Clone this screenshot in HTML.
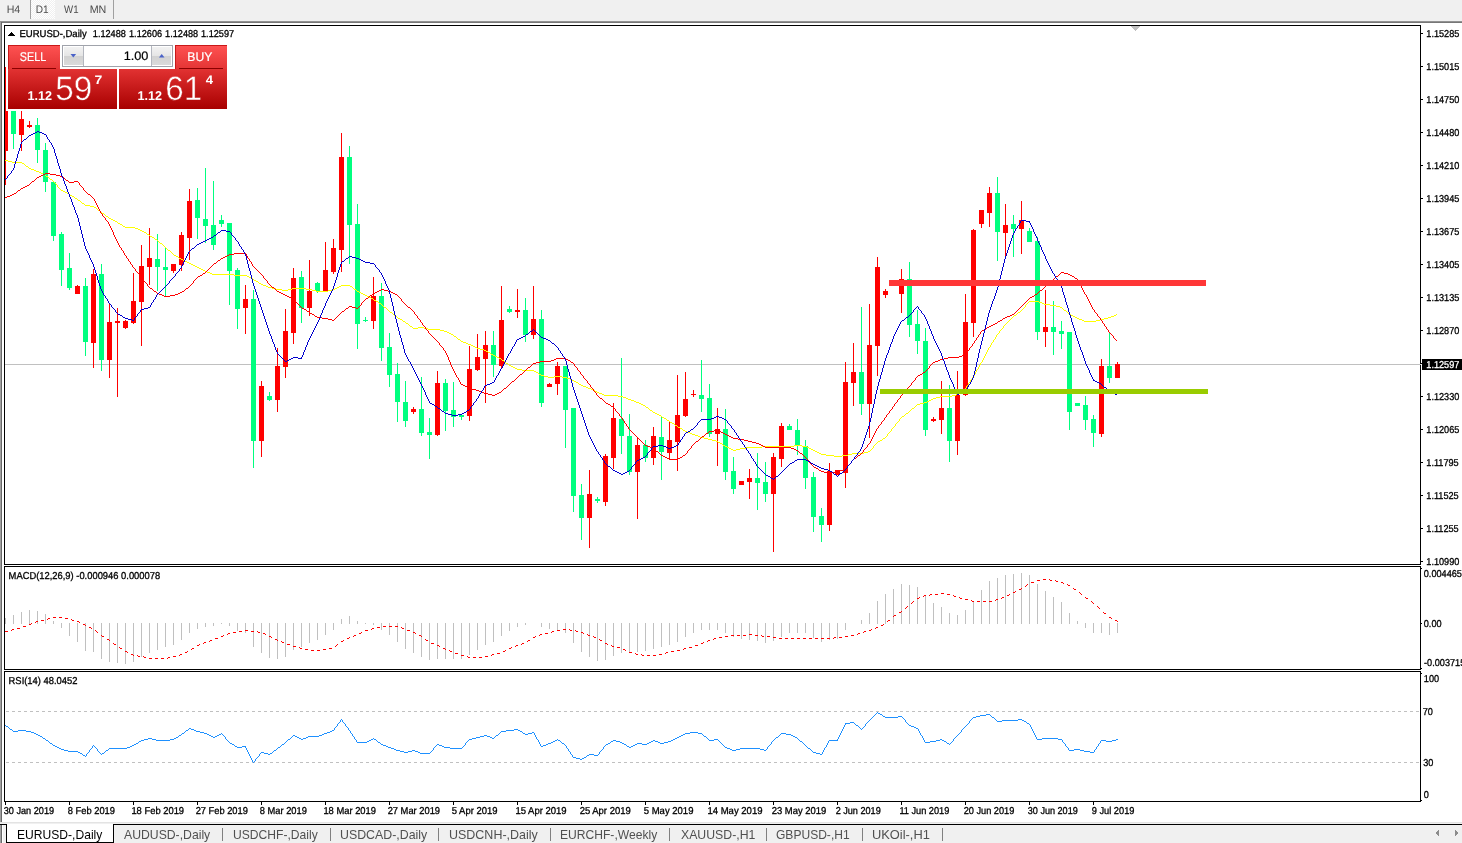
<!DOCTYPE html>
<html lang="en"><head><meta charset="utf-8"><title>EURUSD-,Daily</title>
<style>
html,body{margin:0;padding:0;background:#fff;}
body{width:1462px;height:843px;overflow:hidden;position:relative;font-family:"Liberation Sans", sans-serif;}
#chart{position:absolute;left:0;top:0;}
#toolbar{position:absolute;left:0;top:0;width:1462px;height:21px;background:#f0f0f0;}
#toolbar .sep{position:absolute;top:0;width:1px;height:19px;background:#a0a0a0;}
#toolbar .on{position:absolute;left:31px;top:0;width:24px;height:19px;background:repeating-conic-gradient(#fff 0 25%,#f0f0f0 0 50%) 0 0/2px 2px;}
#toolbar svg{position:absolute;left:0;top:0;}
#tbline{position:absolute;left:0;top:21px;width:1462px;height:2px;background:linear-gradient(#a0a0a0,#696969);}
#lstrip{position:absolute;left:0;top:22px;width:2px;height:800px;background:linear-gradient(90deg,#a0a0a0 50%,#696969 50%);}
#tabs{position:absolute;left:0;top:822px;width:1462px;height:21px;background:#f0f0f0;font-size:13px;color:#505050;}
#tabs .tab span{display:inline-block;transform-origin:0 50%;}
#tabs .line{position:absolute;left:0;top:2px;width:1462px;height:1px;background:#000;}
#tabs .hl{position:absolute;left:0;top:0;width:1462px;height:1px;background:#e3e3e3;}
#tabs .tab{position:absolute;top:3px;height:18px;line-height:19.4px;white-space:nowrap;}
#tabs .active{left:6px;top:2px;height:18px;background:#fff;border:1px solid #000;border-top:none;color:#000;width:106px;line-height:21.4px;}
#tabs .ls{position:absolute;left:0;top:3px;width:3px;height:18px;background:linear-gradient(90deg,#a0a0a0 0 1px,#696969 1px 2px,#fff 2px 3px);}
#tabs .bar{position:absolute;top:6px;width:1px;height:13px;background:#808080;}
#oct{position:absolute;left:8px;top:45px;width:219px;height:64px;}
#oct .mid{position:absolute;left:52px;top:0;width:115px;height:24px;background:#fff;}
#oct .btn{position:absolute;top:0;width:52px;height:24px;background:linear-gradient(#ff5252,#e43535);box-shadow:inset 1px 1px 0 #c81818;}
#oct .btn i{position:absolute;left:4px;right:4px;bottom:0;height:1px;background:#8b0000;}
#oct .price{position:absolute;top:24px;height:40px;width:109px;background:linear-gradient(#e23232,#a80000);}
#oct .vol{position:absolute;left:54px;top:0;width:109px;height:20px;border:1px solid #a0a3ab;background:#fff;}
#oct .vol .sb{position:absolute;top:1px;width:19px;height:18px;background:linear-gradient(#f2f2f2 0%,#e6e6e6 48%,#d2d2d2 52%,#dadada 100%);}
#oct .vol .sl{position:absolute;top:0;width:1px;height:20px;background:#b4b7bf;}
#oct svg.txt{position:absolute;left:0;top:0;}
</style></head>
<body>
<svg id="chart" width="1462" height="843" viewBox="0 0 1462 843" shape-rendering="crispEdges" font-family='"Liberation Sans", sans-serif'>
<g id="frame"><rect x="4" y="25" width="1" height="777" fill="#000"/><rect x="1420" y="25" width="1" height="777" fill="#000"/><rect x="4" y="25" width="1417" height="1" fill="#000"/><rect x="4" y="564" width="1417" height="1" fill="#000"/><rect x="4" y="565" width="1417" height="1" fill="#fff"/><rect x="4" y="566" width="1417" height="1" fill="#000"/><rect x="4" y="669" width="1417" height="1" fill="#000"/><rect x="4" y="670" width="1417" height="1" fill="#fff"/><rect x="4" y="671" width="1417" height="1" fill="#000"/><rect x="4" y="801" width="1417" height="1" fill="#000"/><rect x="1421" y="33" width="2" height="1" fill="#000"/><rect x="1421" y="66" width="2" height="1" fill="#000"/><rect x="1421" y="99" width="2" height="1" fill="#000"/><rect x="1421" y="132" width="2" height="1" fill="#000"/><rect x="1421" y="165" width="2" height="1" fill="#000"/><rect x="1421" y="198" width="2" height="1" fill="#000"/><rect x="1421" y="231" width="2" height="1" fill="#000"/><rect x="1421" y="264" width="2" height="1" fill="#000"/><rect x="1421" y="297" width="2" height="1" fill="#000"/><rect x="1421" y="330" width="2" height="1" fill="#000"/><rect x="1421" y="396" width="2" height="1" fill="#000"/><rect x="1421" y="429" width="2" height="1" fill="#000"/><rect x="1421" y="462" width="2" height="1" fill="#000"/><rect x="1421" y="495" width="2" height="1" fill="#000"/><rect x="1421" y="528" width="2" height="1" fill="#000"/><rect x="1421" y="561" width="2" height="1" fill="#000"/><rect x="1421" y="363" width="2" height="1" fill="#000"/><rect x="1422" y="359" width="40" height="11" fill="#000"/><rect x="1421" y="568" width="1" height="1" fill="#000"/><rect x="1421" y="623" width="1" height="1" fill="#000"/><rect x="1421" y="668" width="1" height="1" fill="#000"/><rect x="1421" y="673" width="1" height="1" fill="#000"/><rect x="1421" y="800" width="1" height="1" fill="#000"/><rect x="5" y="802" width="1" height="3" fill="#000"/><rect x="69" y="802" width="1" height="3" fill="#000"/><rect x="133" y="802" width="1" height="3" fill="#000"/><rect x="197" y="802" width="1" height="3" fill="#000"/><rect x="261" y="802" width="1" height="3" fill="#000"/><rect x="325" y="802" width="1" height="3" fill="#000"/><rect x="389" y="802" width="1" height="3" fill="#000"/><rect x="453" y="802" width="1" height="3" fill="#000"/><rect x="517" y="802" width="1" height="3" fill="#000"/><rect x="581" y="802" width="1" height="3" fill="#000"/><rect x="645" y="802" width="1" height="3" fill="#000"/><rect x="709" y="802" width="1" height="3" fill="#000"/><rect x="773" y="802" width="1" height="3" fill="#000"/><rect x="837" y="802" width="1" height="3" fill="#000"/><rect x="901" y="802" width="1" height="3" fill="#000"/><rect x="965" y="802" width="1" height="3" fill="#000"/><rect x="1029" y="802" width="1" height="3" fill="#000"/><rect x="1093" y="802" width="1" height="3" fill="#000"/></g>
<path d="M11 32h1v1h-1zM10 33h3v1h-3zM9 34h5v1h-5zM8 35h7v1h-7z" fill="#000"/>
<path d="M1131 26h9v1h-9zM1132 27h7v1h-7zM1133 28h5v1h-5zM1134 29h3v1h-3zM1135 30h1v1h-1z" fill="#c0c0c0"/>
<g id="plot">
<rect x="5" y="364" width="1416" height="1" fill="#c0c0c0"/>
<path d="M13 111h1v38h-1zM11 111h5v23h-5zM37 118h1v45h-1zM35 125h5v25h-5zM45 143h1v49h-1zM43 150h5v32h-5zM53 182h1v59h-1zM51 182h5v54h-5zM61 232h1v54h-1zM59 234h5v36h-5zM69 253h1v37h-1zM67 268h5v20h-5zM85 278h1v78h-1zM83 286h5v56h-5zM101 264h1v107h-1zM99 274h5v86h-5zM157 234h1v57h-1zM155 259h5v8h-5zM165 247h1v49h-1zM163 267h5v3h-5zM197 188h1v51h-1zM195 200h5v18h-5zM205 168h1v75h-1zM203 219h5v7h-5zM213 181h1v69h-1zM211 225h5v20h-5zM221 215h1v12h-1zM219 220h5v4h-5zM229 223h1v82h-1zM227 223h5v48h-5zM237 268h1v61h-1zM235 270h5v39h-5zM253 290h1v178h-1zM251 299h5v142h-5zM269 392h1v9h-1zM267 396h5v4h-5zM301 271h1v52h-1zM299 277h5v31h-5zM317 282h1v11h-1zM315 283h5v8h-5zM349 146h1v118h-1zM347 157h5v68h-5zM357 204h1v145h-1zM355 224h5v100h-5zM365 317h1v5h-1zM363 320h5v1h-5zM381 283h1v78h-1zM379 296h5v52h-5zM389 333h1v54h-1zM387 347h5v28h-5zM397 363h1v59h-1zM395 374h5v28h-5zM405 381h1v46h-1zM403 402h5v19h-5zM421 377h1v59h-1zM419 409h5v24h-5zM429 418h1v41h-1zM427 432h5v3h-5zM445 379h1v52h-1zM443 383h5v28h-5zM453 382h1v45h-1zM451 410h5v7h-5zM461 414h1v6h-1zM459 415h5v2h-5zM493 331h1v46h-1zM491 345h5v20h-5zM509 306h1v7h-1zM507 309h5v3h-5zM525 298h1v44h-1zM523 310h5v25h-5zM541 310h1v97h-1zM539 319h5v84h-5zM565 366h1v82h-1zM563 366h5v44h-5zM573 408h1v104h-1zM571 408h5v88h-5zM581 484h1v56h-1zM579 495h5v23h-5zM597 497h1v6h-1zM595 499h5v2h-5zM621 358h1v96h-1zM619 419h5v17h-5zM629 414h1v61h-1zM627 436h5v36h-5zM645 440h1v22h-1zM643 445h5v13h-5zM661 417h1v63h-1zM659 437h5v15h-5zM701 360h1v52h-1zM699 395h5v4h-5zM709 384h1v53h-1zM707 398h5v36h-5zM725 409h1v71h-1zM723 429h5v43h-5zM733 457h1v37h-1zM731 471h5v18h-5zM757 453h1v57h-1zM755 478h5v5h-5zM765 462h1v40h-1zM763 482h5v12h-5zM789 424h1v6h-1zM787 426h5v4h-5zM797 419h1v36h-1zM795 430h5v16h-5zM805 440h1v49h-1zM803 446h5v32h-5zM813 472h1v60h-1zM811 477h5v40h-5zM821 508h1v34h-1zM819 516h5v9h-5zM861 307h1v108h-1zM859 372h5v32h-5zM909 262h1v75h-1zM907 279h5v46h-5zM917 310h1v44h-1zM915 324h5v17h-5zM925 328h1v108h-1zM923 341h5v89h-5zM949 385h1v77h-1zM947 408h5v33h-5zM997 177h1v84h-1zM995 193h5v39h-5zM1013 215h1v42h-1zM1011 224h5v5h-5zM1029 228h1v14h-1zM1027 231h5v11h-5zM1037 237h1v103h-1zM1035 241h5v91h-5zM1053 301h1v54h-1zM1051 327h5v5h-5zM1061 321h1v28h-1zM1059 331h5v3h-5zM1069 332h1v98h-1zM1067 332h5v80h-5zM1077 403h1v3h-1zM1075 403h5v3h-5zM1085 396h1v34h-1zM1083 405h5v15h-5zM1093 415h1v32h-1zM1091 419h5v14h-5zM1109 333h1v50h-1zM1107 366h5v12h-5z" fill="#00ff7f"/>
<path d="M5 67h1v118h-1zM5 111h3v40h-3zM21 111h1v40h-1zM19 119h5v16h-5zM29 121h1v7h-1zM27 125h5v2h-5zM77 285h1v9h-1zM75 286h5v8h-5zM93 269h1v99h-1zM91 274h5v69h-5zM109 303h1v75h-1zM107 322h5v38h-5zM117 308h1v89h-1zM115 321h5v2h-5zM125 320h1v9h-1zM123 321h5v7h-5zM133 273h1v51h-1zM131 301h5v22h-5zM141 245h1v101h-1zM139 266h5v36h-5zM149 228h1v57h-1zM147 258h5v9h-5zM173 264h1v9h-1zM171 264h5v7h-5zM181 232h1v39h-1zM179 235h5v30h-5zM189 189h1v71h-1zM187 201h5v37h-5zM245 285h1v49h-1zM243 299h5v9h-5zM261 381h1v76h-1zM259 386h5v55h-5zM277 348h1v64h-1zM275 366h5v34h-5zM285 309h1v69h-1zM283 331h5v36h-5zM293 268h1v76h-1zM291 278h5v55h-5zM309 260h1v56h-1zM307 291h5v17h-5zM325 242h1v49h-1zM323 270h5v21h-5zM333 239h1v35h-1zM331 248h5v24h-5zM341 133h1v139h-1zM339 157h5v93h-5zM373 277h1v52h-1zM371 296h5v25h-5zM413 407h1v7h-1zM411 409h5v3h-5zM437 371h1v65h-1zM435 383h5v52h-5zM469 346h1v75h-1zM467 369h5v47h-5zM477 334h1v37h-1zM475 357h5v13h-5zM485 331h1v72h-1zM483 345h5v14h-5zM501 286h1v83h-1zM499 320h5v46h-5zM517 289h1v29h-1zM515 310h5v2h-5zM533 286h1v53h-1zM531 319h5v16h-5zM549 383h1v4h-1zM547 384h5v3h-5zM557 362h1v33h-1zM555 366h5v18h-5zM589 470h1v78h-1zM587 494h5v24h-5zM605 454h1v52h-1zM603 456h5v46h-5zM613 403h1v66h-1zM611 418h5v40h-5zM637 437h1v82h-1zM635 445h5v27h-5zM653 427h1v38h-1zM651 436h5v22h-5zM669 421h1v38h-1zM667 440h5v13h-5zM677 375h1v96h-1zM675 415h5v27h-5zM685 372h1v45h-1zM683 399h5v17h-5zM693 390h1v7h-1zM691 394h5v1h-5zM717 408h1v58h-1zM715 429h5v5h-5zM741 481h1v4h-1zM739 481h5v4h-5zM749 469h1v30h-1zM747 478h5v4h-5zM773 453h1v99h-1zM771 457h5v37h-5zM781 423h1v44h-1zM779 426h5v33h-5zM829 463h1v68h-1zM827 471h5v54h-5zM837 470h1v5h-1zM835 470h5v5h-5zM845 362h1v126h-1zM843 382h5v91h-5zM853 343h1v63h-1zM851 372h5v11h-5zM869 304h1v134h-1zM867 345h5v59h-5zM877 257h1v119h-1zM875 267h5v79h-5zM885 289h1v9h-1zM883 291h5v4h-5zM901 269h1v44h-1zM899 279h5v15h-5zM933 417h1v5h-1zM931 419h5v2h-5zM941 381h1v53h-1zM939 408h5v12h-5zM957 371h1v84h-1zM955 395h5v46h-5zM965 294h1v102h-1zM963 322h5v73h-5zM973 229h1v108h-1zM971 230h5v93h-5zM981 210h1v18h-1zM979 210h5v14h-5zM989 187h1v40h-1zM987 193h5v20h-5zM1005 204h1v53h-1zM1003 225h5v8h-5zM1021 201h1v53h-1zM1019 220h5v9h-5zM1045 290h1v57h-1zM1043 327h5v5h-5zM1101 359h1v78h-1zM1099 366h5v68h-5zM1117 362h1v16h-1zM1115 364h5v14h-5z" fill="#ff0000"/>
<path d="M5 160h3v1h-3zM8 161h4v1h-4zM12 162h10v1h-10zM22 163h2v1h-2zM26 166h2v1h-2zM29 168h2v1h-2zM31 169h3v1h-3zM34 170h2v1h-2zM36 171h3v1h-3zM39 172h2v1h-2zM41 173h2v1h-2zM43 174h2v1h-2zM46 176h2v1h-2zM50 179h2v1h-2zM61 190h2v1h-2zM63 191h2v1h-2zM65 192h2v1h-2zM67 193h2v1h-2zM70 195h2v1h-2zM72 196h2v1h-2zM75 198h2v1h-2zM78 200h2v1h-2zM82 203h2v1h-2zM85 205h5v1h-5zM90 206h4v1h-4zM94 207h2v1h-2zM98 210h2v1h-2zM102 213h2v1h-2zM106 216h2v1h-2zM109 218h2v1h-2zM111 219h2v1h-2zM113 220h2v1h-2zM115 221h2v1h-2zM118 223h2v1h-2zM120 224h2v1h-2zM123 226h2v1h-2zM125 227h10v1h-10zM135 228h3v1h-3zM138 229h2v1h-2zM140 230h2v1h-2zM142 231h2v1h-2zM144 232h2v1h-2zM147 234h2v1h-2zM150 236h2v1h-2zM152 237h2v1h-2zM155 239h2v1h-2zM160 243h2v1h-2zM168 250h2v1h-2zM174 255h2v1h-2zM176 256h2v1h-2zM179 258h2v1h-2zM181 259h2v1h-2zM183 260h2v1h-2zM185 261h2v1h-2zM187 262h2v1h-2zM189 263h2v1h-2zM191 264h2v1h-2zM193 265h2v1h-2zM195 266h2v1h-2zM197 267h2v1h-2zM199 268h2v1h-2zM201 269h2v1h-2zM203 270h2v1h-2zM205 271h2v1h-2zM207 272h3v1h-3zM210 273h2v1h-2zM212 274h22v1h-22zM234 275h13v1h-13zM247 276h2v1h-2zM249 277h2v1h-2zM251 278h2v1h-2zM254 280h2v1h-2zM256 281h2v1h-2zM259 283h2v1h-2zM261 284h2v1h-2zM263 285h3v1h-3zM266 286h2v1h-2zM268 287h4v1h-4zM272 288h4v1h-4zM276 289h6v1h-6zM282 290h6v1h-6zM288 289h4v1h-4zM292 288h14v1h-14zM306 289h6v1h-6zM312 290h4v1h-4zM316 291h12v1h-12zM328 290h4v1h-4zM332 289h3v1h-3zM335 288h2v1h-2zM337 287h2v1h-2zM339 286h2v1h-2zM341 285h9v1h-9zM350 286h2v1h-2zM354 289h2v1h-2zM357 291h2v1h-2zM359 292h2v1h-2zM361 293h2v1h-2zM363 294h2v1h-2zM365 295h2v1h-2zM367 296h2v1h-2zM369 297h2v1h-2zM371 298h2v1h-2zM374 300h2v1h-2zM376 301h2v1h-2zM379 303h2v1h-2zM384 307h2v1h-2zM390 312h2v1h-2zM394 315h2v1h-2zM398 318h2v1h-2zM400 319h2v1h-2zM403 321h2v1h-2zM406 323h2v1h-2zM410 326h2v1h-2zM413 328h5v1h-5zM418 327h6v1h-6zM424 328h4v1h-4zM428 329h12v1h-12zM440 330h4v1h-4zM444 331h3v1h-3zM447 332h2v1h-2zM449 333h2v1h-2zM451 334h2v1h-2zM454 336h2v1h-2zM458 339h2v1h-2zM461 341h2v1h-2zM463 342h3v1h-3zM466 343h2v1h-2zM468 344h3v1h-3zM471 345h2v1h-2zM473 346h2v1h-2zM475 347h2v1h-2zM477 348h3v1h-3zM480 349h4v1h-4zM484 350h2v1h-2zM486 351h2v1h-2zM488 352h2v1h-2zM491 354h2v1h-2zM493 355h2v1h-2zM495 356h2v1h-2zM497 357h2v1h-2zM499 358h2v1h-2zM502 360h2v1h-2zM506 363h2v1h-2zM509 365h2v1h-2zM511 366h2v1h-2zM513 367h2v1h-2zM515 368h2v1h-2zM517 369h5v1h-5zM522 370h12v1h-12zM534 371h2v1h-2zM536 372h2v1h-2zM539 374h2v1h-2zM541 375h3v1h-3zM544 376h4v1h-4zM548 377h6v1h-6zM554 376h8v1h-8zM562 377h5v1h-5zM567 378h3v1h-3zM570 379h2v1h-2zM572 380h2v1h-2zM574 381h2v1h-2zM576 382h2v1h-2zM579 384h2v1h-2zM581 385h2v1h-2zM583 386h3v1h-3zM586 387h2v1h-2zM588 388h3v1h-3zM591 389h2v1h-2zM593 390h2v1h-2zM595 391h2v1h-2zM597 392h2v1h-2zM599 393h3v1h-3zM602 394h2v1h-2zM604 395h14v1h-14zM618 396h5v1h-5zM623 397h3v1h-3zM626 398h2v1h-2zM628 399h3v1h-3zM631 400h3v1h-3zM634 401h2v1h-2zM636 402h3v1h-3zM639 403h2v1h-2zM641 404h2v1h-2zM643 405h2v1h-2zM646 407h2v1h-2zM650 410h2v1h-2zM653 412h2v1h-2zM655 413h2v1h-2zM657 414h2v1h-2zM659 415h2v1h-2zM662 417h2v1h-2zM664 418h2v1h-2zM667 420h2v1h-2zM670 422h2v1h-2zM672 423h2v1h-2zM675 425h2v1h-2zM678 427h2v1h-2zM680 428h2v1h-2zM683 430h2v1h-2zM685 431h2v1h-2zM687 432h3v1h-3zM690 433h2v1h-2zM692 434h3v1h-3zM695 435h3v1h-3zM698 436h2v1h-2zM700 437h4v1h-4zM704 438h4v1h-4zM708 439h4v1h-4zM712 440h4v1h-4zM716 441h2v1h-2zM718 442h2v1h-2zM720 443h2v1h-2zM723 445h2v1h-2zM725 446h2v1h-2zM727 447h2v1h-2zM729 448h2v1h-2zM731 449h2v1h-2zM733 450h3v1h-3zM736 449h4v1h-4zM740 448h6v1h-6zM746 447h16v1h-16zM762 446h32v1h-32zM794 445h8v1h-8zM802 446h5v1h-5zM807 447h2v1h-2zM809 448h2v1h-2zM811 449h2v1h-2zM813 450h2v1h-2zM815 451h2v1h-2zM817 452h2v1h-2zM819 453h2v1h-2zM821 454h5v1h-5zM826 455h8v1h-8zM834 456h8v1h-8zM842 455h6v1h-6zM848 454h4v1h-4zM852 453h12v1h-12zM864 452h4v1h-4zM868 451h2v1h-2zM878 441h2v1h-2zM880 440h2v1h-2zM883 438h2v1h-2zM902 416h2v1h-2zM906 413h2v1h-2zM912 408h2v1h-2zM917 404h3v1h-3zM920 403h4v1h-4zM924 402h3v1h-3zM927 401h2v1h-2zM929 400h2v1h-2zM931 399h2v1h-2zM933 398h3v1h-3zM936 397h4v1h-4zM940 396h12v1h-12zM952 395h4v1h-4zM956 394h2v1h-2zM958 393h2v1h-2zM962 390h2v1h-2zM1014 315h2v1h-2zM1018 312h2v1h-2zM1029 301h10v1h-10zM1039 302h3v1h-3zM1042 303h2v1h-2zM1044 304h6v1h-6zM1050 305h6v1h-6zM1056 306h4v1h-4zM1060 307h2v1h-2zM1064 310h2v1h-2zM1069 314h2v1h-2zM1071 315h2v1h-2zM1073 316h2v1h-2zM1075 317h2v1h-2zM1077 318h2v1h-2zM1079 319h3v1h-3zM1082 320h2v1h-2zM1084 321h12v1h-12zM1096 320h4v1h-4zM1100 319h4v1h-4zM1104 318h4v1h-4zM1108 317h3v1h-3zM1111 316h3v1h-3zM1114 315h2v1h-2zM24 164h1v1h-1zM25 165h1v1h-1zM28 167h1v1h-1zM45 175h1v1h-1zM48 177h1v1h-1zM49 178h1v1h-1zM52 180h1v1h-1zM53 181h1v1h-1zM54 182h1v1h-1zM55 183h1v1h-1zM56 184h1v1h-1zM57 185h1v2h-1zM58 187h1v1h-1zM59 188h1v1h-1zM60 189h1v1h-1zM69 194h1v1h-1zM74 197h1v1h-1zM77 199h1v1h-1zM80 201h1v1h-1zM81 202h1v1h-1zM84 204h1v1h-1zM96 208h1v1h-1zM97 209h1v1h-1zM100 211h1v1h-1zM101 212h1v1h-1zM104 214h1v1h-1zM105 215h1v1h-1zM108 217h1v1h-1zM117 222h1v1h-1zM122 225h1v1h-1zM146 233h1v1h-1zM149 235h1v1h-1zM154 238h1v1h-1zM157 240h1v1h-1zM158 241h1v1h-1zM159 242h1v1h-1zM162 244h1v1h-1zM163 245h1v1h-1zM164 246h1v1h-1zM165 247h1v1h-1zM166 248h1v1h-1zM167 249h1v1h-1zM170 251h1v1h-1zM171 252h1v1h-1zM172 253h1v1h-1zM173 254h1v1h-1zM178 257h1v1h-1zM253 279h1v1h-1zM258 282h1v1h-1zM352 287h1v1h-1zM353 288h1v1h-1zM356 290h1v1h-1zM373 299h1v1h-1zM378 302h1v1h-1zM381 304h1v1h-1zM382 305h1v1h-1zM383 306h1v1h-1zM386 308h1v1h-1zM387 309h1v1h-1zM388 310h1v1h-1zM389 311h1v1h-1zM392 313h1v1h-1zM393 314h1v1h-1zM396 316h1v1h-1zM397 317h1v1h-1zM402 320h1v1h-1zM405 322h1v1h-1zM408 324h1v1h-1zM409 325h1v1h-1zM412 327h1v1h-1zM453 335h1v1h-1zM456 337h1v1h-1zM457 338h1v1h-1zM460 340h1v1h-1zM490 353h1v1h-1zM501 359h1v1h-1zM504 361h1v1h-1zM505 362h1v1h-1zM508 364h1v1h-1zM538 373h1v1h-1zM578 383h1v1h-1zM645 406h1v1h-1zM648 408h1v1h-1zM649 409h1v1h-1zM652 411h1v1h-1zM661 416h1v1h-1zM666 419h1v1h-1zM669 421h1v1h-1zM674 424h1v1h-1zM677 426h1v1h-1zM682 429h1v1h-1zM722 444h1v1h-1zM870 450h1v1h-1zM871 449h1v1h-1zM872 448h1v1h-1zM873 446h1v2h-1zM874 445h1v1h-1zM875 444h1v1h-1zM876 443h1v1h-1zM877 442h1v1h-1zM882 439h1v1h-1zM885 437h1v1h-1zM886 436h1v1h-1zM887 434h1v2h-1zM888 433h1v1h-1zM889 432h1v1h-1zM890 431h1v1h-1zM891 429h1v2h-1zM892 428h1v1h-1zM893 427h1v1h-1zM894 426h1v1h-1zM895 424h1v2h-1zM896 423h1v1h-1zM897 422h1v1h-1zM898 421h1v1h-1zM899 419h1v2h-1zM900 418h1v1h-1zM901 417h1v1h-1zM904 415h1v1h-1zM905 414h1v1h-1zM908 412h1v1h-1zM909 411h1v1h-1zM910 410h1v1h-1zM911 409h1v1h-1zM914 407h1v1h-1zM915 406h1v1h-1zM916 405h1v1h-1zM960 392h1v1h-1zM961 391h1v1h-1zM964 389h1v1h-1zM965 388h1v1h-1zM966 386h1v2h-1zM967 385h1v1h-1zM968 383h1v2h-1zM969 382h1v1h-1zM970 380h1v2h-1zM971 379h1v1h-1zM972 377h1v2h-1zM973 376h1v1h-1zM974 374h1v2h-1zM975 372h1v2h-1zM976 370h1v2h-1zM977 369h1v1h-1zM978 367h1v2h-1zM979 365h1v2h-1zM980 363h1v2h-1zM981 362h1v1h-1zM982 360h1v2h-1zM983 358h1v2h-1zM984 356h1v2h-1zM985 354h1v2h-1zM986 352h1v2h-1zM987 350h1v2h-1zM988 348h1v2h-1zM989 347h1v1h-1zM990 345h1v2h-1zM991 343h1v2h-1zM992 342h1v1h-1zM993 340h1v2h-1zM994 339h1v1h-1zM995 337h1v2h-1zM996 335h1v2h-1zM997 334h1v1h-1zM998 333h1v1h-1zM999 331h1v2h-1zM1000 330h1v1h-1zM1001 329h1v1h-1zM1002 328h1v1h-1zM1003 326h1v2h-1zM1004 325h1v1h-1zM1005 324h1v1h-1zM1006 323h1v1h-1zM1007 322h1v1h-1zM1008 321h1v1h-1zM1009 320h1v1h-1zM1010 319h1v1h-1zM1011 318h1v1h-1zM1012 317h1v1h-1zM1013 316h1v1h-1zM1016 314h1v1h-1zM1017 313h1v1h-1zM1020 311h1v1h-1zM1021 310h1v1h-1zM1022 309h1v1h-1zM1023 308h1v1h-1zM1024 307h1v1h-1zM1025 305h1v2h-1zM1026 304h1v1h-1zM1027 303h1v1h-1zM1028 302h1v1h-1zM1062 308h1v1h-1zM1063 309h1v1h-1zM1066 311h1v1h-1zM1067 312h1v1h-1zM1068 313h1v1h-1zM1116 314h1v1h-1z" fill="#ffff00"/>
<path d="M5 197h2v1h-2zM7 196h3v1h-3zM10 195h2v1h-2zM12 194h2v1h-2zM14 193h2v1h-2zM18 190h2v1h-2zM21 188h2v1h-2zM23 187h2v1h-2zM25 186h2v1h-2zM27 185h2v1h-2zM32 181h2v1h-2zM37 177h2v1h-2zM39 176h2v1h-2zM41 175h2v1h-2zM43 174h2v1h-2zM45 173h5v1h-5zM50 174h6v1h-6zM56 175h4v1h-4zM60 176h2v1h-2zM62 177h2v1h-2zM66 180h2v1h-2zM69 182h5v1h-5zM74 181h4v1h-4zM88 194h2v1h-2zM150 288h2v1h-2zM154 291h2v1h-2zM157 293h2v1h-2zM159 294h3v1h-3zM162 295h2v1h-2zM164 296h6v1h-6zM170 295h5v1h-5zM175 294h3v1h-3zM178 293h2v1h-2zM180 292h2v1h-2zM182 291h2v1h-2zM186 288h2v1h-2zM198 276h2v1h-2zM200 275h2v1h-2zM203 273h2v1h-2zM214 263h2v1h-2zM218 260h2v1h-2zM221 258h2v1h-2zM223 257h2v1h-2zM225 256h2v1h-2zM227 255h2v1h-2zM229 254h5v1h-5zM234 253h12v1h-12zM272 287h2v1h-2zM277 291h2v1h-2zM279 292h2v1h-2zM281 293h2v1h-2zM283 294h2v1h-2zM285 295h2v1h-2zM287 296h2v1h-2zM289 297h2v1h-2zM291 298h2v1h-2zM302 308h2v1h-2zM304 309h2v1h-2zM307 311h2v1h-2zM310 313h2v1h-2zM312 314h2v1h-2zM315 316h2v1h-2zM317 317h5v1h-5zM322 318h6v1h-6zM328 319h4v1h-4zM332 320h2v1h-2zM342 311h2v1h-2zM346 308h2v1h-2zM349 306h3v1h-3zM352 307h4v1h-4zM356 308h2v1h-2zM366 298h2v1h-2zM370 295h2v1h-2zM373 293h2v1h-2zM375 292h2v1h-2zM377 291h2v1h-2zM379 290h2v1h-2zM381 289h3v1h-3zM384 290h4v1h-4zM388 291h3v1h-3zM391 292h2v1h-2zM393 293h2v1h-2zM395 294h2v1h-2zM408 307h2v1h-2zM461 384h2v1h-2zM463 385h2v1h-2zM465 386h2v1h-2zM467 387h2v1h-2zM469 388h3v1h-3zM472 389h4v1h-4zM476 390h3v1h-3zM479 391h3v1h-3zM482 392h2v1h-2zM484 393h4v1h-4zM488 394h4v1h-4zM492 395h3v1h-3zM495 394h2v1h-2zM497 393h2v1h-2zM499 392h2v1h-2zM504 388h2v1h-2zM512 381h2v1h-2zM520 374h2v1h-2zM528 367h2v1h-2zM533 363h3v1h-3zM536 362h4v1h-4zM540 361h11v1h-11zM551 360h3v1h-3zM554 359h2v1h-2zM556 358h10v1h-10zM566 359h2v1h-2zM568 360h2v1h-2zM571 362h2v1h-2zM600 398h2v1h-2zM606 403h2v1h-2zM608 404h2v1h-2zM611 406h2v1h-2zM645 445h2v1h-2zM647 446h3v1h-3zM650 447h2v1h-2zM652 448h2v1h-2zM656 451h2v1h-2zM661 455h2v1h-2zM663 456h2v1h-2zM665 457h2v1h-2zM667 458h2v1h-2zM669 459h9v1h-9zM678 458h2v1h-2zM680 457h2v1h-2zM683 455h2v1h-2zM696 441h2v1h-2zM702 436h2v1h-2zM706 433h2v1h-2zM709 431h5v1h-5zM714 430h5v1h-5zM719 431h2v1h-2zM721 432h2v1h-2zM723 433h2v1h-2zM725 434h2v1h-2zM727 435h2v1h-2zM729 436h2v1h-2zM731 437h2v1h-2zM733 438h5v1h-5zM738 439h6v1h-6zM744 440h4v1h-4zM748 441h4v1h-4zM752 442h4v1h-4zM756 443h3v1h-3zM759 444h2v1h-2zM761 445h2v1h-2zM763 446h2v1h-2zM765 447h26v1h-26zM791 448h3v1h-3zM794 449h2v1h-2zM796 450h2v1h-2zM800 453h2v1h-2zM814 467h2v1h-2zM816 468h2v1h-2zM819 470h2v1h-2zM821 471h3v1h-3zM824 472h4v1h-4zM828 473h4v1h-4zM832 472h4v1h-4zM836 471h4v1h-4zM840 470h4v1h-4zM844 469h2v1h-2zM854 458h2v1h-2zM858 455h2v1h-2zM918 375h2v1h-2zM920 374h2v1h-2zM923 372h2v1h-2zM933 362h2v1h-2zM935 361h3v1h-3zM938 360h2v1h-2zM940 359h4v1h-4zM944 358h4v1h-4zM948 357h11v1h-11zM959 356h3v1h-3zM962 355h2v1h-2zM964 354h2v1h-2zM982 330h2v1h-2zM984 329h2v1h-2zM987 327h2v1h-2zM989 326h2v1h-2zM991 325h2v1h-2zM993 324h2v1h-2zM995 323h2v1h-2zM998 321h2v1h-2zM1000 320h2v1h-2zM1003 318h2v1h-2zM1005 317h2v1h-2zM1007 316h3v1h-3zM1010 315h2v1h-2zM1012 314h2v1h-2zM1030 297h2v1h-2zM1032 296h2v1h-2zM1035 294h2v1h-2zM1040 290h2v1h-2zM1048 283h2v1h-2zM1056 276h2v1h-2zM1061 272h3v1h-3zM1064 273h4v1h-4zM1068 274h2v1h-2zM1070 275h2v1h-2zM1072 276h2v1h-2zM1075 278h2v1h-2zM16 192h1v1h-1zM17 191h1v1h-1zM20 189h1v1h-1zM29 184h1v1h-1zM30 183h1v1h-1zM31 182h1v1h-1zM34 180h1v1h-1zM35 179h1v1h-1zM36 178h1v1h-1zM64 178h1v1h-1zM65 179h1v1h-1zM68 181h1v1h-1zM78 182h1v1h-1zM79 183h1v2h-1zM80 185h1v1h-1zM81 186h1v1h-1zM82 187h1v1h-1zM83 188h1v2h-1zM84 190h1v1h-1zM85 191h1v1h-1zM86 192h1v1h-1zM87 193h1v1h-1zM90 195h1v1h-1zM91 196h1v1h-1zM92 197h1v1h-1zM93 198h1v1h-1zM94 199h1v2h-1zM95 201h1v2h-1zM96 203h1v2h-1zM97 205h1v2h-1zM98 207h1v2h-1zM99 209h1v2h-1zM100 211h1v2h-1zM101 213h1v1h-1zM102 214h1v2h-1zM103 216h1v1h-1zM104 217h1v1h-1zM105 218h1v2h-1zM106 220h1v1h-1zM107 221h1v1h-1zM108 222h1v2h-1zM109 224h1v2h-1zM110 226h1v2h-1zM111 228h1v2h-1zM112 230h1v2h-1zM113 232h1v3h-1zM114 235h1v2h-1zM115 237h1v2h-1zM116 239h1v2h-1zM117 241h1v2h-1zM118 243h1v2h-1zM119 245h1v2h-1zM120 247h1v1h-1zM121 248h1v2h-1zM122 250h1v1h-1zM123 251h1v2h-1zM124 253h1v2h-1zM125 255h1v1h-1zM126 256h1v2h-1zM127 258h1v1h-1zM128 259h1v2h-1zM129 261h1v1h-1zM130 262h1v2h-1zM131 264h1v1h-1zM132 265h1v2h-1zM133 267h1v1h-1zM134 268h1v1h-1zM135 269h1v2h-1zM136 271h1v1h-1zM137 272h1v1h-1zM138 273h1v1h-1zM139 274h1v2h-1zM140 276h1v1h-1zM141 277h1v1h-1zM142 278h1v1h-1zM143 279h1v2h-1zM144 281h1v1h-1zM145 282h1v1h-1zM146 283h1v1h-1zM147 284h1v2h-1zM148 286h1v1h-1zM149 287h1v1h-1zM152 289h1v1h-1zM153 290h1v1h-1zM156 292h1v1h-1zM184 290h1v1h-1zM185 289h1v1h-1zM188 287h1v1h-1zM189 286h1v1h-1zM190 285h1v1h-1zM191 284h1v1h-1zM192 283h1v1h-1zM193 281h1v2h-1zM194 280h1v1h-1zM195 279h1v1h-1zM196 278h1v1h-1zM197 277h1v1h-1zM202 274h1v1h-1zM205 272h1v1h-1zM206 271h1v1h-1zM207 270h1v1h-1zM208 269h1v1h-1zM209 268h1v1h-1zM210 267h1v1h-1zM211 266h1v1h-1zM212 265h1v1h-1zM213 264h1v1h-1zM216 262h1v1h-1zM217 261h1v1h-1zM220 259h1v1h-1zM246 254h1v2h-1zM247 256h1v2h-1zM248 258h1v1h-1zM249 259h1v2h-1zM250 261h1v1h-1zM251 262h1v2h-1zM252 264h1v2h-1zM253 266h1v1h-1zM254 267h1v1h-1zM255 268h1v1h-1zM256 269h1v1h-1zM257 270h1v1h-1zM258 271h1v1h-1zM259 272h1v1h-1zM260 273h1v1h-1zM261 274h1v1h-1zM262 275h1v1h-1zM263 276h1v2h-1zM264 278h1v1h-1zM265 279h1v1h-1zM266 280h1v1h-1zM267 281h1v2h-1zM268 283h1v1h-1zM269 284h1v1h-1zM270 285h1v1h-1zM271 286h1v1h-1zM274 288h1v1h-1zM275 289h1v1h-1zM276 290h1v1h-1zM293 299h1v1h-1zM294 300h1v1h-1zM295 301h1v1h-1zM296 302h1v1h-1zM297 303h1v1h-1zM298 304h1v1h-1zM299 305h1v1h-1zM300 306h1v1h-1zM301 307h1v1h-1zM306 310h1v1h-1zM309 312h1v1h-1zM314 315h1v1h-1zM334 319h1v1h-1zM335 318h1v1h-1zM336 317h1v1h-1zM337 316h1v1h-1zM338 315h1v1h-1zM339 314h1v1h-1zM340 313h1v1h-1zM341 312h1v1h-1zM344 310h1v1h-1zM345 309h1v1h-1zM348 307h1v1h-1zM358 307h1v1h-1zM359 306h1v1h-1zM360 305h1v1h-1zM361 303h1v2h-1zM362 302h1v1h-1zM363 301h1v1h-1zM364 300h1v1h-1zM365 299h1v1h-1zM368 297h1v1h-1zM369 296h1v1h-1zM372 294h1v1h-1zM397 295h1v1h-1zM398 296h1v1h-1zM399 297h1v1h-1zM400 298h1v1h-1zM401 299h1v2h-1zM402 301h1v1h-1zM403 302h1v1h-1zM404 303h1v1h-1zM405 304h1v1h-1zM406 305h1v1h-1zM407 306h1v1h-1zM410 308h1v1h-1zM411 309h1v1h-1zM412 310h1v1h-1zM413 311h1v1h-1zM414 312h1v2h-1zM415 314h1v1h-1zM416 315h1v1h-1zM417 316h1v2h-1zM418 318h1v1h-1zM419 319h1v1h-1zM420 320h1v2h-1zM421 322h1v1h-1zM422 323h1v2h-1zM423 325h1v1h-1zM424 326h1v1h-1zM425 327h1v2h-1zM426 329h1v1h-1zM427 330h1v1h-1zM428 331h1v2h-1zM429 333h1v1h-1zM430 334h1v1h-1zM431 335h1v1h-1zM432 336h1v1h-1zM433 337h1v1h-1zM434 338h1v1h-1zM435 339h1v1h-1zM436 340h1v1h-1zM437 341h1v1h-1zM438 342h1v1h-1zM439 343h1v2h-1zM440 345h1v1h-1zM441 346h1v1h-1zM442 347h1v1h-1zM443 348h1v2h-1zM444 350h1v1h-1zM445 351h1v2h-1zM446 353h1v2h-1zM447 355h1v2h-1zM448 357h1v3h-1zM449 360h1v2h-1zM450 362h1v3h-1zM451 365h1v2h-1zM452 367h1v2h-1zM453 369h1v2h-1zM454 371h1v2h-1zM455 373h1v2h-1zM456 375h1v2h-1zM457 377h1v1h-1zM458 378h1v2h-1zM459 380h1v2h-1zM460 382h1v2h-1zM501 391h1v1h-1zM502 390h1v1h-1zM503 389h1v1h-1zM506 387h1v1h-1zM507 386h1v1h-1zM508 385h1v1h-1zM509 384h1v1h-1zM510 383h1v1h-1zM511 382h1v1h-1zM514 380h1v1h-1zM515 379h1v1h-1zM516 378h1v1h-1zM517 377h1v1h-1zM518 376h1v1h-1zM519 375h1v1h-1zM522 373h1v1h-1zM523 372h1v1h-1zM524 371h1v1h-1zM525 370h1v1h-1zM526 369h1v1h-1zM527 368h1v1h-1zM530 366h1v1h-1zM531 365h1v1h-1zM532 364h1v1h-1zM570 361h1v1h-1zM573 363h1v1h-1zM574 364h1v2h-1zM575 366h1v1h-1zM576 367h1v1h-1zM577 368h1v2h-1zM578 370h1v1h-1zM579 371h1v1h-1zM580 372h1v2h-1zM581 374h1v1h-1zM582 375h1v1h-1zM583 376h1v2h-1zM584 378h1v1h-1zM585 379h1v1h-1zM586 380h1v1h-1zM587 381h1v2h-1zM588 383h1v1h-1zM589 384h1v1h-1zM590 385h1v2h-1zM591 387h1v1h-1zM592 388h1v1h-1zM593 389h1v2h-1zM594 391h1v1h-1zM595 392h1v1h-1zM596 393h1v2h-1zM597 395h1v1h-1zM598 396h1v1h-1zM599 397h1v1h-1zM602 399h1v1h-1zM603 400h1v1h-1zM604 401h1v1h-1zM605 402h1v1h-1zM610 405h1v1h-1zM613 407h1v1h-1zM614 408h1v1h-1zM615 409h1v2h-1zM616 411h1v1h-1zM617 412h1v1h-1zM618 413h1v1h-1zM619 414h1v2h-1zM620 416h1v1h-1zM621 417h1v1h-1zM622 418h1v2h-1zM623 420h1v1h-1zM624 421h1v2h-1zM625 423h1v1h-1zM626 424h1v2h-1zM627 426h1v1h-1zM628 427h1v2h-1zM629 429h1v1h-1zM630 430h1v1h-1zM631 431h1v1h-1zM632 432h1v1h-1zM633 433h1v1h-1zM634 434h1v1h-1zM635 435h1v1h-1zM636 436h1v1h-1zM637 437h1v1h-1zM638 438h1v1h-1zM639 439h1v1h-1zM640 440h1v1h-1zM641 441h1v1h-1zM642 442h1v1h-1zM643 443h1v1h-1zM644 444h1v1h-1zM654 449h1v1h-1zM655 450h1v1h-1zM658 452h1v1h-1zM659 453h1v1h-1zM660 454h1v1h-1zM682 456h1v1h-1zM685 454h1v1h-1zM686 453h1v1h-1zM687 451h1v2h-1zM688 450h1v1h-1zM689 449h1v1h-1zM690 448h1v1h-1zM691 446h1v2h-1zM692 445h1v1h-1zM693 444h1v1h-1zM694 443h1v1h-1zM695 442h1v1h-1zM698 440h1v1h-1zM699 439h1v1h-1zM700 438h1v1h-1zM701 437h1v1h-1zM704 435h1v1h-1zM705 434h1v1h-1zM708 432h1v1h-1zM798 451h1v1h-1zM799 452h1v1h-1zM802 454h1v1h-1zM803 455h1v1h-1zM804 456h1v1h-1zM805 457h1v1h-1zM806 458h1v1h-1zM807 459h1v1h-1zM808 460h1v1h-1zM809 461h1v2h-1zM810 463h1v1h-1zM811 464h1v1h-1zM812 465h1v1h-1zM813 466h1v1h-1zM818 469h1v1h-1zM846 468h1v1h-1zM847 466h1v2h-1zM848 465h1v1h-1zM849 464h1v1h-1zM850 463h1v1h-1zM851 461h1v2h-1zM852 460h1v1h-1zM853 459h1v1h-1zM856 457h1v1h-1zM857 456h1v1h-1zM860 454h1v1h-1zM861 453h1v1h-1zM862 452h1v1h-1zM863 450h1v2h-1zM864 449h1v1h-1zM865 448h1v1h-1zM866 447h1v1h-1zM867 445h1v2h-1zM868 444h1v1h-1zM869 443h1v1h-1zM870 441h1v2h-1zM871 439h1v2h-1zM872 437h1v2h-1zM873 435h1v2h-1zM874 433h1v2h-1zM875 431h1v2h-1zM876 429h1v2h-1zM877 428h1v1h-1zM878 426h1v2h-1zM879 425h1v1h-1zM880 424h1v1h-1zM881 422h1v2h-1zM882 421h1v1h-1zM883 420h1v1h-1zM884 418h1v2h-1zM885 417h1v1h-1zM886 415h1v2h-1zM887 414h1v1h-1zM888 413h1v1h-1zM889 411h1v2h-1zM890 410h1v1h-1zM891 409h1v1h-1zM892 407h1v2h-1zM893 406h1v1h-1zM894 404h1v2h-1zM895 403h1v1h-1zM896 402h1v1h-1zM897 400h1v2h-1zM898 399h1v1h-1zM899 398h1v1h-1zM900 396h1v2h-1zM901 395h1v1h-1zM902 394h1v1h-1zM903 393h1v1h-1zM904 392h1v1h-1zM905 390h1v2h-1zM906 389h1v1h-1zM907 388h1v1h-1zM908 387h1v1h-1zM909 386h1v1h-1zM910 385h1v1h-1zM911 383h1v2h-1zM912 382h1v1h-1zM913 381h1v1h-1zM914 380h1v1h-1zM915 378h1v2h-1zM916 377h1v1h-1zM917 376h1v1h-1zM922 373h1v1h-1zM925 371h1v1h-1zM926 370h1v1h-1zM927 369h1v1h-1zM928 368h1v1h-1zM929 366h1v2h-1zM930 365h1v1h-1zM931 364h1v1h-1zM932 363h1v1h-1zM966 352h1v2h-1zM967 351h1v1h-1zM968 350h1v1h-1zM969 348h1v2h-1zM970 347h1v1h-1zM971 346h1v1h-1zM972 344h1v2h-1zM973 343h1v1h-1zM974 341h1v2h-1zM975 340h1v1h-1zM976 338h1v2h-1zM977 337h1v1h-1zM978 335h1v2h-1zM979 334h1v1h-1zM980 332h1v2h-1zM981 331h1v1h-1zM986 328h1v1h-1zM997 322h1v1h-1zM1002 319h1v1h-1zM1014 313h1v1h-1zM1015 312h1v1h-1zM1016 311h1v1h-1zM1017 310h1v1h-1zM1018 309h1v1h-1zM1019 308h1v1h-1zM1020 307h1v1h-1zM1021 306h1v1h-1zM1022 305h1v1h-1zM1023 304h1v1h-1zM1024 303h1v1h-1zM1025 302h1v1h-1zM1026 301h1v1h-1zM1027 300h1v1h-1zM1028 299h1v1h-1zM1029 298h1v1h-1zM1034 295h1v1h-1zM1037 293h1v1h-1zM1038 292h1v1h-1zM1039 291h1v1h-1zM1042 289h1v1h-1zM1043 288h1v1h-1zM1044 287h1v1h-1zM1045 286h1v1h-1zM1046 285h1v1h-1zM1047 284h1v1h-1zM1050 282h1v1h-1zM1051 281h1v1h-1zM1052 280h1v1h-1zM1053 279h1v1h-1zM1054 278h1v1h-1zM1055 277h1v1h-1zM1058 275h1v1h-1zM1059 274h1v1h-1zM1060 273h1v1h-1zM1074 277h1v1h-1zM1077 279h1v1h-1zM1078 280h1v2h-1zM1079 282h1v2h-1zM1080 284h1v2h-1zM1081 286h1v2h-1zM1082 288h1v2h-1zM1083 290h1v2h-1zM1084 292h1v2h-1zM1085 294h1v1h-1zM1086 295h1v2h-1zM1087 297h1v2h-1zM1088 299h1v2h-1zM1089 301h1v2h-1zM1090 303h1v2h-1zM1091 305h1v2h-1zM1092 307h1v2h-1zM1093 309h1v1h-1zM1094 310h1v2h-1zM1095 312h1v1h-1zM1096 313h1v1h-1zM1097 314h1v2h-1zM1098 316h1v1h-1zM1099 317h1v1h-1zM1100 318h1v2h-1zM1101 320h1v1h-1zM1102 321h1v2h-1zM1103 323h1v1h-1zM1104 324h1v2h-1zM1105 326h1v1h-1zM1106 327h1v2h-1zM1107 329h1v1h-1zM1108 330h1v2h-1zM1109 332h1v1h-1zM1110 333h1v1h-1zM1111 334h1v1h-1zM1112 335h1v1h-1zM1113 336h1v2h-1zM1114 338h1v1h-1zM1115 339h1v1h-1zM1116 340h1v1h-1z" fill="#ff0000"/>
<path d="M24 139h2v1h-2zM29 135h2v1h-2zM31 134h2v1h-2zM33 133h2v1h-2zM35 132h2v1h-2zM37 131h2v1h-2zM39 132h3v1h-3zM42 133h2v1h-2zM44 134h2v1h-2zM118 314h2v1h-2zM120 315h2v1h-2zM123 317h2v1h-2zM125 318h3v1h-3zM128 319h4v1h-4zM132 320h2v1h-2zM141 309h3v1h-3zM144 308h4v1h-4zM148 307h2v1h-2zM192 248h2v1h-2zM197 244h2v1h-2zM199 243h2v1h-2zM201 242h2v1h-2zM203 241h2v1h-2zM205 240h2v1h-2zM207 239h2v1h-2zM209 238h2v1h-2zM211 237h2v1h-2zM214 235h2v1h-2zM218 232h2v1h-2zM221 230h5v1h-5zM226 231h4v1h-4zM285 361h2v1h-2zM287 360h2v1h-2zM289 359h2v1h-2zM291 358h2v1h-2zM293 357h5v1h-5zM298 358h4v1h-4zM342 261h2v1h-2zM346 258h2v1h-2zM349 256h3v1h-3zM352 257h4v1h-4zM356 258h3v1h-3zM359 259h2v1h-2zM361 260h2v1h-2zM363 261h2v1h-2zM365 262h5v1h-5zM370 263h4v1h-4zM430 403h2v1h-2zM432 404h2v1h-2zM435 406h2v1h-2zM438 408h2v1h-2zM442 411h2v1h-2zM445 413h3v1h-3zM448 414h4v1h-4zM452 415h6v1h-6zM458 414h4v1h-4zM462 413h2v1h-2zM464 412h2v1h-2zM467 410h2v1h-2zM485 385h2v1h-2zM487 384h3v1h-3zM490 383h2v1h-2zM492 382h2v1h-2zM517 339h2v1h-2zM519 338h2v1h-2zM521 337h2v1h-2zM523 336h2v1h-2zM526 334h2v1h-2zM530 331h2v1h-2zM541 337h2v1h-2zM543 338h3v1h-3zM546 339h2v1h-2zM548 340h2v1h-2zM552 343h2v1h-2zM608 466h2v1h-2zM613 470h2v1h-2zM615 471h2v1h-2zM617 472h2v1h-2zM619 473h2v1h-2zM621 474h2v1h-2zM623 473h2v1h-2zM625 472h2v1h-2zM627 471h2v1h-2zM637 460h2v1h-2zM639 459h2v1h-2zM641 458h2v1h-2zM643 457h2v1h-2zM653 446h5v1h-5zM658 445h5v1h-5zM663 446h3v1h-3zM666 447h2v1h-2zM668 448h3v1h-3zM671 447h3v1h-3zM674 446h2v1h-2zM676 445h2v1h-2zM686 432h2v1h-2zM688 431h2v1h-2zM691 429h2v1h-2zM701 419h10v1h-10zM711 418h3v1h-3zM714 417h2v1h-2zM716 416h3v1h-3zM719 417h3v1h-3zM722 418h2v1h-2zM724 419h2v1h-2zM766 475h2v1h-2zM768 476h2v1h-2zM771 478h2v1h-2zM776 476h2v1h-2zM790 463h2v1h-2zM792 462h2v1h-2zM795 460h2v1h-2zM797 459h9v1h-9zM806 460h2v1h-2zM808 461h2v1h-2zM811 463h2v1h-2zM813 464h2v1h-2zM815 465h2v1h-2zM817 466h2v1h-2zM819 467h2v1h-2zM821 468h3v1h-3zM824 469h4v1h-4zM828 470h2v1h-2zM830 471h2v1h-2zM834 474h2v1h-2zM840 473h2v1h-2zM902 320h2v1h-2zM906 317h2v1h-2zM957 394h2v1h-2zM959 393h3v1h-3zM962 392h2v1h-2zM964 391h2v1h-2zM1021 220h5v1h-5zM1026 221h4v1h-4zM1093 380h2v1h-2zM1095 381h2v1h-2zM1097 382h2v1h-2zM1099 383h2v1h-2zM1104 387h2v1h-2zM1109 391h2v1h-2zM1111 392h2v1h-2zM1113 393h2v1h-2zM1115 394h2v1h-2zM5 179h1v1h-1zM6 178h1v1h-1zM7 176h1v2h-1zM8 175h1v1h-1zM9 174h1v1h-1zM10 173h1v1h-1zM11 171h1v2h-1zM12 170h1v1h-1zM13 168h1v2h-1zM14 164h1v4h-1zM15 161h1v3h-1zM16 158h1v3h-1zM17 154h1v4h-1zM18 151h1v3h-1zM19 148h1v3h-1zM20 144h1v4h-1zM21 142h1v2h-1zM22 141h1v1h-1zM23 140h1v1h-1zM26 138h1v1h-1zM27 137h1v1h-1zM28 136h1v1h-1zM46 135h1v2h-1zM47 137h1v2h-1zM48 139h1v1h-1zM49 140h1v2h-1zM50 142h1v1h-1zM51 143h1v2h-1zM52 145h1v2h-1zM53 147h1v2h-1zM54 149h1v4h-1zM55 153h1v3h-1zM56 156h1v3h-1zM57 159h1v4h-1zM58 163h1v3h-1zM59 166h1v3h-1zM60 169h1v4h-1zM61 173h1v3h-1zM62 176h1v2h-1zM63 178h1v3h-1zM64 181h1v3h-1zM65 184h1v2h-1zM66 186h1v3h-1zM67 189h1v3h-1zM68 192h1v2h-1zM69 194h1v3h-1zM70 197h1v2h-1zM71 199h1v3h-1zM72 202h1v3h-1zM73 205h1v2h-1zM74 207h1v3h-1zM75 210h1v3h-1zM76 213h1v2h-1zM77 215h1v3h-1zM78 218h1v4h-1zM79 222h1v4h-1zM80 226h1v4h-1zM81 230h1v4h-1zM82 234h1v4h-1zM83 238h1v4h-1zM84 242h1v4h-1zM85 246h1v3h-1zM86 249h1v2h-1zM87 251h1v2h-1zM88 253h1v2h-1zM89 255h1v3h-1zM90 258h1v2h-1zM91 260h1v2h-1zM92 262h1v2h-1zM93 264h1v3h-1zM94 267h1v3h-1zM95 270h1v3h-1zM96 273h1v3h-1zM97 276h1v4h-1zM98 280h1v3h-1zM99 283h1v3h-1zM100 286h1v3h-1zM101 289h1v2h-1zM102 291h1v2h-1zM103 293h1v2h-1zM104 295h1v1h-1zM105 296h1v2h-1zM106 298h1v1h-1zM107 299h1v2h-1zM108 301h1v2h-1zM109 303h1v1h-1zM110 304h1v1h-1zM111 305h1v2h-1zM112 307h1v1h-1zM113 308h1v1h-1zM114 309h1v1h-1zM115 310h1v2h-1zM116 312h1v1h-1zM117 313h1v1h-1zM122 316h1v1h-1zM134 318h1v2h-1zM135 317h1v1h-1zM136 316h1v1h-1zM137 314h1v2h-1zM138 313h1v1h-1zM139 312h1v1h-1zM140 310h1v2h-1zM150 305h1v2h-1zM151 303h1v2h-1zM152 302h1v1h-1zM153 300h1v2h-1zM154 299h1v1h-1zM155 297h1v2h-1zM156 295h1v2h-1zM157 294h1v1h-1zM158 293h1v1h-1zM159 292h1v1h-1zM160 291h1v1h-1zM161 290h1v1h-1zM162 289h1v1h-1zM163 288h1v1h-1zM164 287h1v1h-1zM165 286h1v1h-1zM166 285h1v1h-1zM167 284h1v1h-1zM168 283h1v1h-1zM169 281h1v2h-1zM170 280h1v1h-1zM171 279h1v1h-1zM172 278h1v1h-1zM173 277h1v1h-1zM174 276h1v1h-1zM175 274h1v2h-1zM176 273h1v1h-1zM177 272h1v1h-1zM178 271h1v1h-1zM179 269h1v2h-1zM180 268h1v1h-1zM181 266h1v2h-1zM182 264h1v2h-1zM183 262h1v2h-1zM184 260h1v2h-1zM185 258h1v2h-1zM186 256h1v2h-1zM187 254h1v2h-1zM188 252h1v2h-1zM189 251h1v1h-1zM190 250h1v1h-1zM191 249h1v1h-1zM194 247h1v1h-1zM195 246h1v1h-1zM196 245h1v1h-1zM213 236h1v1h-1zM216 234h1v1h-1zM217 233h1v1h-1zM220 231h1v1h-1zM230 232h1v1h-1zM231 233h1v2h-1zM232 235h1v1h-1zM233 236h1v1h-1zM234 237h1v1h-1zM235 238h1v2h-1zM236 240h1v1h-1zM237 241h1v1h-1zM238 242h1v2h-1zM239 244h1v2h-1zM240 246h1v1h-1zM241 247h1v2h-1zM242 249h1v1h-1zM243 250h1v2h-1zM244 252h1v2h-1zM245 254h1v2h-1zM246 256h1v4h-1zM247 260h1v4h-1zM248 264h1v4h-1zM249 268h1v3h-1zM250 271h1v4h-1zM251 275h1v4h-1zM252 279h1v4h-1zM253 283h1v3h-1zM254 286h1v3h-1zM255 289h1v3h-1zM256 292h1v3h-1zM257 295h1v3h-1zM258 298h1v3h-1zM259 301h1v3h-1zM260 304h1v3h-1zM261 307h1v3h-1zM262 310h1v3h-1zM263 313h1v3h-1zM264 316h1v3h-1zM265 319h1v3h-1zM266 322h1v3h-1zM267 325h1v3h-1zM268 328h1v3h-1zM269 331h1v3h-1zM270 334h1v2h-1zM271 336h1v3h-1zM272 339h1v3h-1zM273 342h1v2h-1zM274 344h1v3h-1zM275 347h1v3h-1zM276 350h1v2h-1zM277 352h1v2h-1zM278 354h1v1h-1zM279 355h1v1h-1zM280 356h1v1h-1zM281 357h1v1h-1zM282 358h1v1h-1zM283 359h1v1h-1zM284 360h1v1h-1zM301 357h1v1h-1zM302 355h1v2h-1zM303 352h1v3h-1zM304 350h1v2h-1zM305 347h1v3h-1zM306 345h1v2h-1zM307 342h1v3h-1zM308 340h1v2h-1zM309 338h1v2h-1zM310 336h1v2h-1zM311 334h1v2h-1zM312 332h1v2h-1zM313 330h1v2h-1zM314 328h1v2h-1zM315 326h1v2h-1zM316 324h1v2h-1zM317 322h1v2h-1zM318 320h1v2h-1zM319 318h1v2h-1zM320 315h1v3h-1zM321 313h1v2h-1zM322 310h1v3h-1zM323 308h1v2h-1zM324 306h1v2h-1zM325 303h1v3h-1zM326 301h1v2h-1zM327 299h1v2h-1zM328 297h1v2h-1zM329 295h1v2h-1zM330 293h1v2h-1zM331 291h1v2h-1zM332 289h1v2h-1zM333 286h1v3h-1zM334 283h1v3h-1zM335 280h1v3h-1zM336 277h1v3h-1zM337 273h1v4h-1zM338 270h1v3h-1zM339 267h1v3h-1zM340 264h1v3h-1zM341 262h1v2h-1zM344 260h1v1h-1zM345 259h1v1h-1zM348 257h1v1h-1zM374 264h1v1h-1zM375 265h1v2h-1zM376 267h1v1h-1zM377 268h1v1h-1zM378 269h1v1h-1zM379 270h1v2h-1zM380 272h1v1h-1zM381 273h1v2h-1zM382 275h1v2h-1zM383 277h1v2h-1zM384 279h1v2h-1zM385 281h1v3h-1zM386 284h1v2h-1zM387 286h1v2h-1zM388 288h1v2h-1zM389 290h1v4h-1zM390 294h1v4h-1zM391 298h1v4h-1zM392 302h1v4h-1zM393 306h1v5h-1zM394 311h1v4h-1zM395 315h1v4h-1zM396 319h1v4h-1zM397 323h1v4h-1zM398 327h1v4h-1zM399 331h1v4h-1zM400 335h1v3h-1zM401 338h1v4h-1zM402 342h1v3h-1zM403 345h1v4h-1zM404 349h1v4h-1zM405 353h1v2h-1zM406 355h1v2h-1zM407 357h1v2h-1zM408 359h1v2h-1zM409 361h1v1h-1zM410 362h1v2h-1zM411 364h1v2h-1zM412 366h1v2h-1zM413 368h1v2h-1zM414 370h1v2h-1zM415 372h1v2h-1zM416 374h1v2h-1zM417 376h1v2h-1zM418 378h1v2h-1zM419 380h1v2h-1zM420 382h1v2h-1zM421 384h1v2h-1zM422 386h1v2h-1zM423 388h1v2h-1zM424 390h1v2h-1zM425 392h1v3h-1zM426 395h1v2h-1zM427 397h1v2h-1zM428 399h1v2h-1zM429 401h1v2h-1zM434 405h1v1h-1zM437 407h1v1h-1zM440 409h1v1h-1zM441 410h1v1h-1zM444 412h1v1h-1zM466 411h1v1h-1zM469 409h1v1h-1zM470 407h1v2h-1zM471 406h1v1h-1zM472 405h1v1h-1zM473 403h1v2h-1zM474 402h1v1h-1zM475 401h1v1h-1zM476 399h1v2h-1zM477 398h1v1h-1zM478 396h1v2h-1zM479 394h1v2h-1zM480 393h1v1h-1zM481 391h1v2h-1zM482 390h1v1h-1zM483 388h1v2h-1zM484 386h1v2h-1zM494 380h1v2h-1zM495 378h1v2h-1zM496 376h1v2h-1zM497 375h1v1h-1zM498 373h1v2h-1zM499 371h1v2h-1zM500 369h1v2h-1zM501 368h1v1h-1zM502 366h1v2h-1zM503 364h1v2h-1zM504 362h1v2h-1zM505 360h1v2h-1zM506 358h1v2h-1zM507 356h1v2h-1zM508 354h1v2h-1zM509 353h1v1h-1zM510 351h1v2h-1zM511 349h1v2h-1zM512 347h1v2h-1zM513 346h1v1h-1zM514 344h1v2h-1zM515 342h1v2h-1zM516 340h1v2h-1zM525 335h1v1h-1zM528 333h1v1h-1zM529 332h1v1h-1zM532 330h1v1h-1zM533 329h1v1h-1zM534 330h1v1h-1zM535 331h1v1h-1zM536 332h1v1h-1zM537 333h1v1h-1zM538 334h1v1h-1zM539 335h1v1h-1zM540 336h1v1h-1zM550 341h1v1h-1zM551 342h1v1h-1zM554 344h1v1h-1zM555 345h1v1h-1zM556 346h1v1h-1zM557 347h1v1h-1zM558 348h1v2h-1zM559 350h1v1h-1zM560 351h1v2h-1zM561 353h1v1h-1zM562 354h1v2h-1zM563 356h1v1h-1zM564 357h1v2h-1zM565 359h1v2h-1zM566 361h1v4h-1zM567 365h1v4h-1zM568 369h1v3h-1zM569 372h1v4h-1zM570 376h1v3h-1zM571 379h1v4h-1zM572 383h1v4h-1zM573 387h1v3h-1zM574 390h1v3h-1zM575 393h1v3h-1zM576 396h1v3h-1zM577 399h1v3h-1zM578 402h1v3h-1zM579 405h1v3h-1zM580 408h1v3h-1zM581 411h1v3h-1zM582 414h1v3h-1zM583 417h1v3h-1zM584 420h1v3h-1zM585 423h1v3h-1zM586 426h1v3h-1zM587 429h1v3h-1zM588 432h1v3h-1zM589 435h1v2h-1zM590 437h1v2h-1zM591 439h1v2h-1zM592 441h1v2h-1zM593 443h1v2h-1zM594 445h1v2h-1zM595 447h1v2h-1zM596 449h1v2h-1zM597 451h1v1h-1zM598 452h1v2h-1zM599 454h1v1h-1zM600 455h1v2h-1zM601 457h1v1h-1zM602 458h1v2h-1zM603 460h1v1h-1zM604 461h1v2h-1zM605 463h1v1h-1zM606 464h1v1h-1zM607 465h1v1h-1zM610 467h1v1h-1zM611 468h1v1h-1zM612 469h1v1h-1zM629 470h1v1h-1zM630 469h1v1h-1zM631 467h1v2h-1zM632 466h1v1h-1zM633 465h1v1h-1zM634 464h1v1h-1zM635 462h1v2h-1zM636 461h1v1h-1zM645 456h1v1h-1zM646 455h1v1h-1zM647 453h1v2h-1zM648 452h1v1h-1zM649 451h1v1h-1zM650 450h1v1h-1zM651 448h1v2h-1zM652 447h1v1h-1zM678 443h1v2h-1zM679 442h1v1h-1zM680 440h1v2h-1zM681 439h1v1h-1zM682 437h1v2h-1zM683 436h1v1h-1zM684 434h1v2h-1zM685 433h1v1h-1zM690 430h1v1h-1zM693 428h1v1h-1zM694 427h1v1h-1zM695 426h1v1h-1zM696 425h1v1h-1zM697 423h1v2h-1zM698 422h1v1h-1zM699 421h1v1h-1zM700 420h1v1h-1zM726 420h1v1h-1zM727 421h1v2h-1zM728 423h1v1h-1zM729 424h1v1h-1zM730 425h1v1h-1zM731 426h1v2h-1zM732 428h1v1h-1zM733 429h1v1h-1zM734 430h1v2h-1zM735 432h1v1h-1zM736 433h1v2h-1zM737 435h1v1h-1zM738 436h1v2h-1zM739 438h1v1h-1zM740 439h1v2h-1zM741 441h1v1h-1zM742 442h1v2h-1zM743 444h1v1h-1zM744 445h1v2h-1zM745 447h1v1h-1zM746 448h1v2h-1zM747 450h1v1h-1zM748 451h1v2h-1zM749 453h1v1h-1zM750 454h1v2h-1zM751 456h1v2h-1zM752 458h1v1h-1zM753 459h1v2h-1zM754 461h1v1h-1zM755 462h1v2h-1zM756 464h1v2h-1zM757 466h1v1h-1zM758 467h1v1h-1zM759 468h1v1h-1zM760 469h1v1h-1zM761 470h1v1h-1zM762 471h1v1h-1zM763 472h1v1h-1zM764 473h1v1h-1zM765 474h1v1h-1zM770 477h1v1h-1zM773 479h1v1h-1zM774 478h1v1h-1zM775 477h1v1h-1zM778 475h1v1h-1zM779 474h1v1h-1zM780 473h1v1h-1zM781 472h1v1h-1zM782 471h1v1h-1zM783 470h1v1h-1zM784 469h1v1h-1zM785 468h1v1h-1zM786 467h1v1h-1zM787 466h1v1h-1zM788 465h1v1h-1zM789 464h1v1h-1zM794 461h1v1h-1zM810 462h1v1h-1zM832 472h1v1h-1zM833 473h1v1h-1zM836 475h1v1h-1zM837 476h1v1h-1zM838 475h1v1h-1zM839 474h1v1h-1zM842 472h1v1h-1zM843 471h1v1h-1zM844 470h1v1h-1zM845 469h1v1h-1zM846 468h1v1h-1zM847 466h1v2h-1zM848 465h1v1h-1zM849 464h1v1h-1zM850 463h1v1h-1zM851 461h1v2h-1zM852 460h1v1h-1zM853 459h1v1h-1zM854 457h1v2h-1zM855 456h1v1h-1zM856 455h1v1h-1zM857 453h1v2h-1zM858 452h1v1h-1zM859 451h1v1h-1zM860 449h1v2h-1zM861 447h1v2h-1zM862 444h1v3h-1zM863 441h1v3h-1zM864 438h1v3h-1zM865 435h1v3h-1zM866 432h1v3h-1zM867 429h1v3h-1zM868 426h1v3h-1zM869 422h1v4h-1zM870 418h1v4h-1zM871 413h1v5h-1zM872 408h1v5h-1zM873 404h1v4h-1zM874 399h1v5h-1zM875 394h1v5h-1zM876 390h1v4h-1zM877 386h1v4h-1zM878 382h1v4h-1zM879 379h1v3h-1zM880 375h1v4h-1zM881 372h1v3h-1zM882 368h1v4h-1zM883 365h1v3h-1zM884 361h1v4h-1zM885 358h1v3h-1zM886 355h1v3h-1zM887 353h1v2h-1zM888 350h1v3h-1zM889 347h1v3h-1zM890 344h1v3h-1zM891 342h1v2h-1zM892 339h1v3h-1zM893 336h1v3h-1zM894 334h1v2h-1zM895 332h1v2h-1zM896 330h1v2h-1zM897 328h1v2h-1zM898 326h1v2h-1zM899 324h1v2h-1zM900 322h1v2h-1zM901 321h1v1h-1zM904 319h1v1h-1zM905 318h1v1h-1zM908 316h1v1h-1zM909 315h1v1h-1zM910 314h1v1h-1zM911 313h1v1h-1zM912 312h1v1h-1zM913 310h1v2h-1zM914 309h1v1h-1zM915 308h1v1h-1zM916 307h1v1h-1zM917 306h1v1h-1zM918 307h1v2h-1zM919 309h1v1h-1zM920 310h1v1h-1zM921 311h1v2h-1zM922 313h1v1h-1zM923 314h1v1h-1zM924 315h1v2h-1zM925 317h1v2h-1zM926 319h1v2h-1zM927 321h1v3h-1zM928 324h1v2h-1zM929 326h1v3h-1zM930 329h1v2h-1zM931 331h1v3h-1zM932 334h1v2h-1zM933 336h1v3h-1zM934 339h1v2h-1zM935 341h1v2h-1zM936 343h1v2h-1zM937 345h1v2h-1zM938 347h1v2h-1zM939 349h1v2h-1zM940 351h1v2h-1zM941 353h1v3h-1zM942 356h1v3h-1zM943 359h1v2h-1zM944 361h1v3h-1zM945 364h1v3h-1zM946 367h1v3h-1zM947 370h1v2h-1zM948 372h1v3h-1zM949 375h1v3h-1zM950 378h1v2h-1zM951 380h1v2h-1zM952 382h1v2h-1zM953 384h1v3h-1zM954 387h1v2h-1zM955 389h1v2h-1zM956 391h1v2h-1zM957 393h1v1h-1zM966 389h1v2h-1zM967 387h1v2h-1zM968 385h1v2h-1zM969 384h1v1h-1zM970 382h1v2h-1zM971 380h1v2h-1zM972 378h1v2h-1zM973 375h1v3h-1zM974 371h1v4h-1zM975 367h1v4h-1zM976 362h1v5h-1zM977 358h1v4h-1zM978 353h1v5h-1zM979 349h1v4h-1zM980 345h1v4h-1zM981 341h1v4h-1zM982 337h1v4h-1zM983 333h1v4h-1zM984 329h1v4h-1zM985 325h1v4h-1zM986 321h1v4h-1zM987 317h1v4h-1zM988 313h1v4h-1zM989 310h1v3h-1zM990 307h1v3h-1zM991 304h1v3h-1zM992 301h1v3h-1zM993 299h1v2h-1zM994 296h1v3h-1zM995 293h1v3h-1zM996 290h1v3h-1zM997 287h1v3h-1zM998 283h1v4h-1zM999 279h1v4h-1zM1000 275h1v4h-1zM1001 271h1v4h-1zM1002 267h1v4h-1zM1003 263h1v4h-1zM1004 259h1v4h-1zM1005 256h1v3h-1zM1006 253h1v3h-1zM1007 250h1v3h-1zM1008 247h1v3h-1zM1009 244h1v3h-1zM1010 241h1v3h-1zM1011 238h1v3h-1zM1012 235h1v3h-1zM1013 233h1v2h-1zM1014 231h1v2h-1zM1015 229h1v2h-1zM1016 228h1v1h-1zM1017 226h1v2h-1zM1018 225h1v1h-1zM1019 223h1v2h-1zM1020 221h1v2h-1zM1029 222h1v1h-1zM1030 223h1v2h-1zM1031 225h1v2h-1zM1032 227h1v2h-1zM1033 229h1v3h-1zM1034 232h1v2h-1zM1035 234h1v2h-1zM1036 236h1v2h-1zM1037 238h1v3h-1zM1038 241h1v2h-1zM1039 243h1v2h-1zM1040 245h1v2h-1zM1041 247h1v3h-1zM1042 250h1v2h-1zM1043 252h1v2h-1zM1044 254h1v2h-1zM1045 256h1v3h-1zM1046 259h1v2h-1zM1047 261h1v2h-1zM1048 263h1v2h-1zM1049 265h1v2h-1zM1050 267h1v2h-1zM1051 269h1v2h-1zM1052 271h1v2h-1zM1053 273h1v1h-1zM1054 274h1v2h-1zM1055 276h1v2h-1zM1056 278h1v1h-1zM1057 279h1v2h-1zM1058 281h1v1h-1zM1059 282h1v2h-1zM1060 284h1v2h-1zM1061 286h1v2h-1zM1062 288h1v4h-1zM1063 292h1v3h-1zM1064 295h1v3h-1zM1065 298h1v4h-1zM1066 302h1v3h-1zM1067 305h1v3h-1zM1068 308h1v4h-1zM1069 312h1v3h-1zM1070 315h1v3h-1zM1071 318h1v4h-1zM1072 322h1v3h-1zM1073 325h1v3h-1zM1074 328h1v3h-1zM1075 331h1v4h-1zM1076 335h1v3h-1zM1077 338h1v3h-1zM1078 341h1v3h-1zM1079 344h1v3h-1zM1080 347h1v3h-1zM1081 350h1v2h-1zM1082 352h1v3h-1zM1083 355h1v3h-1zM1084 358h1v3h-1zM1085 361h1v3h-1zM1086 364h1v2h-1zM1087 366h1v2h-1zM1088 368h1v2h-1zM1089 370h1v3h-1zM1090 373h1v2h-1zM1091 375h1v2h-1zM1092 377h1v2h-1zM1093 379h1v1h-1zM1101 384h1v1h-1zM1102 385h1v1h-1zM1103 386h1v1h-1zM1106 388h1v1h-1zM1107 389h1v1h-1zM1108 390h1v1h-1z" fill="#0000cd"/>
<rect x="889" y="280" width="317" height="6" fill="#ff3737"/>
<rect x="880" y="389" width="328" height="5" fill="#99cc00"/>
<path d="M5 618h1v6h-1zM13 615h1v9h-1zM21 612h1v12h-1zM29 610h1v14h-1zM37 611h1v13h-1zM45 614h1v10h-1zM53 621h1v3h-1zM61 623h1v5h-1zM69 623h1v13h-1zM77 623h1v19h-1zM85 623h1v28h-1zM93 623h1v29h-1zM101 623h1v36h-1zM109 623h1v39h-1zM117 623h1v40h-1zM125 623h1v41h-1zM133 623h1v39h-1zM141 623h1v34h-1zM149 623h1v30h-1zM157 623h1v27h-1zM165 623h1v24h-1zM173 623h1v22h-1zM181 623h1v17h-1zM189 623h1v10h-1zM197 623h1v6h-1zM205 623h1v4h-1zM213 623h1v3h-1zM221 623h1v1h-1zM229 623h1v3h-1zM237 623h1v8h-1zM245 623h1v10h-1zM253 623h1v24h-1zM261 623h1v30h-1zM269 623h1v35h-1zM277 623h1v36h-1zM285 623h1v34h-1zM293 623h1v27h-1zM301 623h1v24h-1zM309 623h1v20h-1zM317 623h1v17h-1zM325 623h1v12h-1zM333 623h1v7h-1zM341 619h1v5h-1zM349 616h1v8h-1zM357 621h1v3h-1zM365 623h1v1h-1zM373 623h1v2h-1zM381 623h1v7h-1zM389 623h1v12h-1zM397 623h1v19h-1zM405 623h1v26h-1zM413 623h1v30h-1zM421 623h1v34h-1zM429 623h1v37h-1zM437 623h1v36h-1zM445 623h1v36h-1zM453 623h1v36h-1zM461 623h1v36h-1zM469 623h1v32h-1zM477 623h1v27h-1zM485 623h1v22h-1zM493 623h1v19h-1zM501 623h1v13h-1zM509 623h1v8h-1zM517 623h1v4h-1zM525 623h1v2h-1zM541 623h1v4h-1zM549 623h1v6h-1zM557 623h1v7h-1zM565 623h1v10h-1zM573 623h1v20h-1zM581 623h1v29h-1zM589 623h1v34h-1zM597 623h1v38h-1zM605 623h1v37h-1zM613 623h1v33h-1zM621 623h1v30h-1zM629 623h1v30h-1zM637 623h1v29h-1zM645 623h1v28h-1zM653 623h1v26h-1zM661 623h1v24h-1zM669 623h1v22h-1zM677 623h1v19h-1zM685 623h1v14h-1zM693 623h1v10h-1zM701 623h1v7h-1zM709 623h1v7h-1zM717 623h1v7h-1zM725 623h1v10h-1zM733 623h1v14h-1zM741 623h1v16h-1zM749 623h1v17h-1zM757 623h1v18h-1zM765 623h1v20h-1zM773 623h1v18h-1zM781 623h1v14h-1zM789 623h1v10h-1zM797 623h1v10h-1zM805 623h1v10h-1zM813 623h1v15h-1zM821 623h1v19h-1zM829 623h1v17h-1zM837 623h1v16h-1zM845 623h1v7h-1zM861 620h1v4h-1zM869 613h1v11h-1zM877 601h1v23h-1zM885 594h1v30h-1zM893 589h1v35h-1zM901 584h1v40h-1zM909 585h1v39h-1zM917 587h1v37h-1zM925 596h1v28h-1zM933 603h1v21h-1zM941 607h1v17h-1zM949 613h1v11h-1zM957 615h1v9h-1zM965 610h1v14h-1zM973 601h1v23h-1zM981 590h1v34h-1zM989 581h1v43h-1zM997 578h1v46h-1zM1005 575h1v49h-1zM1013 574h1v50h-1zM1021 573h1v51h-1zM1029 575h1v49h-1zM1037 584h1v40h-1zM1045 591h1v33h-1zM1053 597h1v27h-1zM1061 602h1v22h-1zM1069 613h1v11h-1zM1077 621h1v3h-1zM1085 623h1v5h-1zM1093 623h1v10h-1zM1101 623h1v10h-1zM1109 623h1v12h-1zM1117 623h1v10h-1z" fill="#c0c0c0"/>
<path d="M5 631h3v1h-3zM12 629h2v1h-2zM17 628h3v1h-3zM23 626h3v1h-3zM29 624h2v1h-2zM36 621h2v1h-2zM41 620h3v1h-3zM48 618h2v1h-2zM53 617h3v1h-3zM59 617h3v1h-3zM65 618h3v1h-3zM72 620h2v1h-2zM77 621h2v1h-2zM83 624h2v1h-2zM89 627h2v1h-2zM102 636h2v1h-2zM107 639h2v1h-2zM114 644h2v1h-2zM120 648h2v1h-2zM125 651h2v1h-2zM131 654h2v1h-2zM138 656h2v1h-2zM144 657h2v1h-2zM149 658h3v1h-3zM155 658h3v1h-3zM161 658h3v1h-3zM168 657h2v1h-2zM173 656h3v1h-3zM180 654h2v1h-2zM185 652h2v1h-2zM192 648h2v1h-2zM197 645h2v1h-2zM204 642h2v1h-2zM210 640h2v1h-2zM215 638h3v1h-3zM221 636h2v1h-2zM228 633h2v1h-2zM233 632h3v1h-3zM239 631h3v1h-3zM245 630h3v1h-3zM251 631h3v1h-3zM258 632h2v1h-2zM263 633h2v1h-2zM269 636h2v1h-2zM275 639h2v1h-2zM282 642h2v1h-2zM287 644h3v1h-3zM293 646h3v1h-3zM300 648h2v1h-2zM305 649h3v1h-3zM311 650h3v1h-3zM317 650h3v1h-3zM323 649h3v1h-3zM329 648h3v1h-3zM341 641h2v1h-2zM347 638h2v1h-2zM354 635h2v1h-2zM359 633h2v1h-2zM365 630h3v1h-3zM372 628h2v1h-2zM377 627h3v1h-3zM383 626h3v1h-3zM389 626h3v1h-3zM395 626h3v1h-3zM402 628h2v1h-2zM407 630h3v1h-3zM413 632h2v1h-2zM419 635h2v1h-2zM426 640h2v1h-2zM431 643h3v1h-3zM437 645h2v1h-2zM443 648h2v1h-2zM450 651h2v1h-2zM455 653h3v1h-3zM461 655h3v1h-3zM468 657h2v1h-2zM473 657h3v1h-3zM479 657h3v1h-3zM485 656h3v1h-3zM492 654h2v1h-2zM497 653h3v1h-3zM503 651h2v1h-2zM509 648h2v1h-2zM516 645h2v1h-2zM522 643h2v1h-2zM528 640h2v1h-2zM533 637h2v1h-2zM540 634h2v1h-2zM545 633h3v1h-3zM552 631h2v1h-2zM557 630h3v1h-3zM563 629h3v1h-3zM570 630h2v1h-2zM576 631h2v1h-2zM581 632h2v1h-2zM588 635h2v1h-2zM594 637h2v1h-2zM600 640h2v1h-2zM605 643h2v1h-2zM612 646h2v1h-2zM617 647h3v1h-3zM623 649h2v1h-2zM629 652h3v1h-3zM636 654h2v1h-2zM642 655h2v1h-2zM647 655h3v1h-3zM653 655h3v1h-3zM659 654h3v1h-3zM666 652h2v1h-2zM671 651h3v1h-3zM677 650h3v1h-3zM684 648h2v1h-2zM689 647h3v1h-3zM695 645h3v1h-3zM701 643h2v1h-2zM708 640h2v1h-2zM714 638h2v1h-2zM719 637h3v1h-3zM725 636h3v1h-3zM731 635h3v1h-3zM737 635h3v1h-3zM743 635h3v1h-3zM749 634h3v1h-3zM755 635h3v1h-3zM762 636h2v1h-2zM767 636h3v1h-3zM773 637h3v1h-3zM779 638h3v1h-3zM785 638h3v1h-3zM791 638h3v1h-3zM797 638h3v1h-3zM803 638h3v1h-3zM809 638h3v1h-3zM815 638h3v1h-3zM821 638h3v1h-3zM827 638h3v1h-3zM834 637h2v1h-2zM839 637h3v1h-3zM845 636h3v1h-3zM851 635h3v1h-3zM858 633h2v1h-2zM864 631h2v1h-2zM869 630h2v1h-2zM876 627h2v1h-2zM881 625h2v1h-2zM888 620h2v1h-2zM894 615h2v1h-2zM899 612h2v1h-2zM917 598h2v1h-2zM924 595h2v1h-2zM930 594h2v1h-2zM935 594h3v1h-3zM941 593h3v1h-3zM947 594h3v1h-3zM954 596h2v1h-2zM960 598h2v1h-2zM965 599h3v1h-3zM972 601h2v1h-2zM977 601h3v1h-3zM983 601h3v1h-3zM989 601h3v1h-3zM996 599h2v1h-2zM1002 597h2v1h-2zM1007 595h2v1h-2zM1013 592h2v1h-2zM1019 589h2v1h-2zM1031 582h3v1h-3zM1037 580h3v1h-3zM1043 579h3v1h-3zM1050 580h2v1h-2zM1056 581h2v1h-2zM1061 582h2v1h-2zM1068 585h2v1h-2zM1074 589h2v1h-2zM1086 598h2v1h-2zM1104 613h2v1h-2zM1109 617h2v1h-2zM1115 620h2v1h-2zM11 630h1v1h-1zM31 623h1v1h-1zM35 622h1v1h-1zM47 619h1v1h-1zM71 619h1v1h-1zM79 622h1v1h-1zM85 625h1v1h-1zM91 628h1v1h-1zM95 630h1v1h-1zM96 631h1v1h-1zM97 632h1v1h-1zM101 635h1v1h-1zM109 640h1v1h-1zM113 643h1v1h-1zM119 647h1v1h-1zM127 652h1v1h-1zM133 655h1v1h-1zM137 655h1v1h-1zM143 656h1v1h-1zM167 658h1v1h-1zM179 655h1v1h-1zM187 651h1v1h-1zM191 649h1v1h-1zM199 644h1v1h-1zM203 643h1v1h-1zM209 641h1v1h-1zM223 635h1v1h-1zM227 634h1v1h-1zM257 631h1v1h-1zM265 634h1v1h-1zM271 637h1v1h-1zM277 640h1v1h-1zM281 641h1v1h-1zM299 647h1v1h-1zM335 646h1v1h-1zM336 645h1v1h-1zM337 644h1v1h-1zM343 640h1v1h-1zM349 637h1v1h-1zM353 636h1v1h-1zM361 632h1v1h-1zM371 629h1v1h-1zM401 627h1v1h-1zM415 633h1v1h-1zM421 636h1v1h-1zM425 639h1v1h-1zM439 646h1v1h-1zM445 649h1v1h-1zM449 650h1v1h-1zM467 656h1v1h-1zM491 655h1v1h-1zM505 650h1v1h-1zM511 647h1v1h-1zM515 646h1v1h-1zM521 644h1v1h-1zM527 641h1v1h-1zM535 636h1v1h-1zM539 635h1v1h-1zM551 632h1v1h-1zM569 629h1v1h-1zM575 630h1v1h-1zM583 633h1v1h-1zM587 634h1v1h-1zM593 636h1v1h-1zM599 639h1v1h-1zM607 644h1v1h-1zM611 645h1v1h-1zM625 650h1v1h-1zM635 653h1v1h-1zM641 654h1v1h-1zM665 653h1v1h-1zM683 649h1v1h-1zM703 642h1v1h-1zM707 641h1v1h-1zM713 639h1v1h-1zM761 635h1v1h-1zM833 638h1v1h-1zM857 634h1v1h-1zM863 632h1v1h-1zM871 629h1v1h-1zM875 628h1v1h-1zM883 624h1v1h-1zM887 621h1v1h-1zM893 616h1v1h-1zM901 611h1v1h-1zM905 608h1v1h-1zM906 607h1v1h-1zM907 606h1v1h-1zM911 603h1v1h-1zM912 602h1v1h-1zM913 601h1v1h-1zM919 597h1v1h-1zM923 596h1v1h-1zM929 595h1v1h-1zM953 595h1v1h-1zM959 597h1v1h-1zM971 600h1v1h-1zM995 600h1v1h-1zM1001 598h1v1h-1zM1009 594h1v1h-1zM1015 591h1v1h-1zM1021 588h1v1h-1zM1025 586h1v1h-1zM1026 585h1v1h-1zM1027 584h1v1h-1zM1049 579h1v1h-1zM1055 580h1v1h-1zM1063 583h1v1h-1zM1067 584h1v1h-1zM1073 588h1v1h-1zM1079 592h1v1h-1zM1080 593h1v1h-1zM1081 594h1v1h-1zM1085 597h1v1h-1zM1091 601h1v1h-1zM1092 602h1v1h-1zM1093 603h1v1h-1zM1097 606h1v1h-1zM1098 607h1v1h-1zM1099 608h1v1h-1zM1103 612h1v1h-1zM1111 618h1v1h-1zM1117 621h1v1h-1z" fill="#ff0000"/>
<path d="M6 711.5H1420M6 762.5H1420" stroke="#c0c0c0" stroke-width="1" stroke-dasharray="3 3" fill="none"/>
<path d="M6 726h2v1h-2zM10 729h2v1h-2zM13 731h5v1h-5zM18 730h8v1h-8zM26 731h5v1h-5zM31 732h3v1h-3zM34 733h2v1h-2zM36 734h2v1h-2zM38 735h2v1h-2zM40 736h2v1h-2zM43 738h2v1h-2zM46 740h2v1h-2zM50 743h2v1h-2zM53 745h2v1h-2zM55 746h2v1h-2zM57 747h2v1h-2zM59 748h2v1h-2zM61 749h3v1h-3zM64 750h4v1h-4zM68 751h10v1h-10zM78 752h2v1h-2zM80 753h2v1h-2zM83 755h2v1h-2zM102 753h2v1h-2zM106 750h2v1h-2zM109 748h18v1h-18zM127 747h3v1h-3zM130 746h2v1h-2zM132 745h2v1h-2zM134 744h2v1h-2zM136 743h2v1h-2zM139 741h2v1h-2zM141 740h3v1h-3zM144 739h4v1h-4zM148 738h4v1h-4zM152 739h4v1h-4zM156 740h14v1h-14zM170 739h4v1h-4zM174 738h2v1h-2zM176 737h2v1h-2zM179 735h2v1h-2zM182 733h2v1h-2zM186 730h2v1h-2zM189 728h2v1h-2zM191 729h3v1h-3zM194 730h2v1h-2zM196 731h4v1h-4zM200 732h4v1h-4zM204 733h3v1h-3zM207 734h2v1h-2zM209 735h2v1h-2zM211 736h2v1h-2zM213 737h2v1h-2zM215 736h2v1h-2zM217 735h2v1h-2zM219 734h2v1h-2zM230 743h2v1h-2zM232 744h2v1h-2zM235 746h2v1h-2zM237 747h5v1h-5zM242 746h4v1h-4zM261 752h3v1h-3zM264 753h4v1h-4zM268 754h2v1h-2zM270 753h2v1h-2zM274 750h2v1h-2zM278 747h2v1h-2zM282 744h2v1h-2zM288 739h2v1h-2zM293 735h2v1h-2zM295 736h2v1h-2zM297 737h2v1h-2zM299 738h2v1h-2zM301 739h2v1h-2zM303 738h3v1h-3zM306 737h2v1h-2zM308 736h11v1h-11zM319 735h3v1h-3zM322 734h2v1h-2zM324 733h3v1h-3zM327 732h3v1h-3zM330 731h2v1h-2zM332 730h2v1h-2zM357 742h10v1h-10zM367 741h2v1h-2zM369 740h2v1h-2zM371 739h2v1h-2zM374 739h2v1h-2zM378 742h2v1h-2zM381 744h2v1h-2zM383 745h3v1h-3zM386 746h2v1h-2zM388 747h3v1h-3zM391 748h3v1h-3zM394 749h2v1h-2zM396 750h4v1h-4zM400 751h4v1h-4zM404 752h4v1h-4zM408 751h4v1h-4zM412 750h3v1h-3zM415 751h3v1h-3zM418 752h2v1h-2zM420 753h10v1h-10zM437 744h2v1h-2zM439 745h3v1h-3zM442 746h2v1h-2zM444 747h6v1h-6zM450 748h12v1h-12zM469 739h3v1h-3zM472 738h4v1h-4zM476 737h4v1h-4zM480 736h4v1h-4zM484 735h3v1h-3zM487 736h3v1h-3zM490 737h2v1h-2zM492 738h2v1h-2zM496 735h2v1h-2zM501 731h5v1h-5zM506 730h8v1h-8zM514 729h4v1h-4zM518 730h2v1h-2zM520 731h2v1h-2zM523 733h2v1h-2zM525 734h3v1h-3zM528 733h4v1h-4zM532 732h2v1h-2zM541 746h2v1h-2zM543 745h3v1h-3zM546 744h2v1h-2zM548 743h3v1h-3zM551 742h2v1h-2zM553 741h2v1h-2zM555 740h2v1h-2zM558 740h2v1h-2zM562 743h2v1h-2zM573 757h3v1h-3zM576 758h4v1h-4zM580 759h2v1h-2zM582 758h2v1h-2zM584 757h2v1h-2zM587 755h2v1h-2zM589 754h5v1h-5zM594 755h4v1h-4zM606 744h2v1h-2zM608 743h2v1h-2zM611 741h2v1h-2zM613 740h3v1h-3zM616 741h4v1h-4zM620 742h2v1h-2zM622 743h2v1h-2zM624 744h2v1h-2zM627 746h2v1h-2zM629 747h2v1h-2zM631 746h2v1h-2zM633 745h2v1h-2zM635 744h2v1h-2zM637 743h5v1h-5zM642 744h5v1h-5zM647 743h2v1h-2zM649 742h2v1h-2zM651 741h2v1h-2zM653 740h2v1h-2zM655 741h3v1h-3zM658 742h2v1h-2zM660 743h4v1h-4zM664 742h4v1h-4zM668 741h3v1h-3zM671 740h2v1h-2zM673 739h2v1h-2zM675 738h2v1h-2zM677 737h2v1h-2zM679 736h2v1h-2zM681 735h2v1h-2zM683 734h2v1h-2zM685 733h5v1h-5zM690 732h8v1h-8zM698 733h4v1h-4zM704 736h2v1h-2zM709 740h5v1h-5zM714 739h4v1h-4zM725 747h2v1h-2zM727 748h3v1h-3zM730 749h2v1h-2zM732 750h4v1h-4zM736 749h4v1h-4zM740 748h20v1h-20zM760 749h4v1h-4zM764 750h2v1h-2zM776 737h2v1h-2zM781 733h5v1h-5zM786 734h5v1h-5zM791 735h2v1h-2zM793 736h2v1h-2zM795 737h2v1h-2zM800 741h2v1h-2zM808 748h2v1h-2zM813 752h3v1h-3zM816 753h4v1h-4zM820 754h2v1h-2zM829 740h9v1h-9zM845 723h5v1h-5zM850 722h4v1h-4zM856 725h2v1h-2zM878 713h2v1h-2zM880 714h2v1h-2zM883 716h2v1h-2zM885 717h13v1h-13zM898 716h4v1h-4zM909 725h2v1h-2zM911 726h3v1h-3zM914 727h2v1h-2zM916 728h2v1h-2zM925 742h5v1h-5zM930 741h6v1h-6zM936 740h4v1h-4zM940 739h2v1h-2zM942 740h2v1h-2zM944 741h2v1h-2zM947 743h2v1h-2zM973 717h3v1h-3zM976 716h4v1h-4zM980 715h6v1h-6zM986 714h4v1h-4zM992 717h2v1h-2zM997 721h5v1h-5zM1002 720h16v1h-16zM1018 719h4v1h-4zM1022 720h2v1h-2zM1024 721h2v1h-2zM1027 723h2v1h-2zM1037 739h5v1h-5zM1042 738h16v1h-16zM1058 739h4v1h-4zM1069 750h5v1h-5zM1074 749h6v1h-6zM1080 750h4v1h-4zM1084 751h6v1h-6zM1090 752h4v1h-4zM1101 740h5v1h-5zM1106 741h6v1h-6zM1112 740h4v1h-4zM1116 739h2v1h-2zM5 725h1v1h-1zM8 727h1v1h-1zM9 728h1v1h-1zM12 730h1v1h-1zM42 737h1v1h-1zM45 739h1v1h-1zM48 741h1v1h-1zM49 742h1v1h-1zM52 744h1v1h-1zM82 754h1v1h-1zM85 756h1v1h-1zM86 754h1v2h-1zM87 753h1v1h-1zM88 752h1v1h-1zM89 750h1v2h-1zM90 749h1v1h-1zM91 748h1v1h-1zM92 746h1v2h-1zM93 745h1v1h-1zM94 746h1v1h-1zM95 747h1v1h-1zM96 748h1v1h-1zM97 749h1v2h-1zM98 751h1v1h-1zM99 752h1v1h-1zM100 753h1v1h-1zM101 754h1v1h-1zM104 752h1v1h-1zM105 751h1v1h-1zM108 749h1v1h-1zM138 742h1v1h-1zM178 736h1v1h-1zM181 734h1v1h-1zM184 732h1v1h-1zM185 731h1v1h-1zM188 729h1v1h-1zM221 733h1v1h-1zM222 734h1v1h-1zM223 735h1v1h-1zM224 736h1v1h-1zM225 737h1v2h-1zM226 739h1v1h-1zM227 740h1v1h-1zM228 741h1v1h-1zM229 742h1v1h-1zM234 745h1v1h-1zM245 747h1v1h-1zM246 748h1v2h-1zM247 750h1v2h-1zM248 752h1v2h-1zM249 754h1v2h-1zM250 756h1v2h-1zM251 758h1v2h-1zM252 760h1v2h-1zM253 762h1v1h-1zM254 761h1v1h-1zM255 759h1v2h-1zM256 758h1v1h-1zM257 757h1v1h-1zM258 756h1v1h-1zM259 754h1v2h-1zM260 753h1v1h-1zM272 752h1v1h-1zM273 751h1v1h-1zM276 749h1v1h-1zM277 748h1v1h-1zM280 746h1v1h-1zM281 745h1v1h-1zM284 743h1v1h-1zM285 742h1v1h-1zM286 741h1v1h-1zM287 740h1v1h-1zM290 738h1v1h-1zM291 737h1v1h-1zM292 736h1v1h-1zM334 728h1v2h-1zM335 727h1v1h-1zM336 726h1v1h-1zM337 724h1v2h-1zM338 723h1v1h-1zM339 722h1v1h-1zM340 720h1v2h-1zM341 719h1v1h-1zM342 720h1v2h-1zM343 722h1v1h-1zM344 723h1v1h-1zM345 724h1v2h-1zM346 726h1v1h-1zM347 727h1v1h-1zM348 728h1v2h-1zM349 730h1v1h-1zM350 731h1v2h-1zM351 733h1v1h-1zM352 734h1v2h-1zM353 736h1v1h-1zM354 737h1v2h-1zM355 739h1v1h-1zM356 740h1v2h-1zM373 738h1v1h-1zM376 740h1v1h-1zM377 741h1v1h-1zM380 743h1v1h-1zM430 752h1v1h-1zM431 751h1v1h-1zM432 750h1v1h-1zM433 748h1v2h-1zM434 747h1v1h-1zM435 746h1v1h-1zM436 745h1v1h-1zM462 747h1v1h-1zM463 746h1v1h-1zM464 745h1v1h-1zM465 743h1v2h-1zM466 742h1v1h-1zM467 741h1v1h-1zM468 740h1v1h-1zM494 737h1v1h-1zM495 736h1v1h-1zM498 734h1v1h-1zM499 733h1v1h-1zM500 732h1v1h-1zM522 732h1v1h-1zM534 733h1v2h-1zM535 735h1v2h-1zM536 737h1v2h-1zM537 739h1v1h-1zM538 740h1v2h-1zM539 742h1v2h-1zM540 744h1v2h-1zM557 739h1v1h-1zM560 741h1v1h-1zM561 742h1v1h-1zM564 744h1v1h-1zM565 745h1v1h-1zM566 746h1v2h-1zM567 748h1v1h-1zM568 749h1v2h-1zM569 751h1v1h-1zM570 752h1v2h-1zM571 754h1v1h-1zM572 755h1v2h-1zM586 756h1v1h-1zM598 754h1v1h-1zM599 752h1v2h-1zM600 751h1v1h-1zM601 750h1v1h-1zM602 749h1v1h-1zM603 747h1v2h-1zM604 746h1v1h-1zM605 745h1v1h-1zM610 742h1v1h-1zM626 745h1v1h-1zM702 734h1v1h-1zM703 735h1v1h-1zM706 737h1v1h-1zM707 738h1v1h-1zM708 739h1v1h-1zM718 740h1v1h-1zM719 741h1v1h-1zM720 742h1v1h-1zM721 743h1v1h-1zM722 744h1v1h-1zM723 745h1v1h-1zM724 746h1v1h-1zM766 749h1v1h-1zM767 747h1v2h-1zM768 746h1v1h-1zM769 745h1v1h-1zM770 744h1v1h-1zM771 742h1v2h-1zM772 741h1v1h-1zM773 740h1v1h-1zM774 739h1v1h-1zM775 738h1v1h-1zM778 736h1v1h-1zM779 735h1v1h-1zM780 734h1v1h-1zM797 738h1v1h-1zM798 739h1v1h-1zM799 740h1v1h-1zM802 742h1v1h-1zM803 743h1v1h-1zM804 744h1v1h-1zM805 745h1v1h-1zM806 746h1v1h-1zM807 747h1v1h-1zM810 749h1v1h-1zM811 750h1v1h-1zM812 751h1v1h-1zM822 752h1v2h-1zM823 750h1v2h-1zM824 748h1v2h-1zM825 747h1v1h-1zM826 745h1v2h-1zM827 743h1v2h-1zM828 741h1v2h-1zM837 739h1v1h-1zM838 737h1v2h-1zM839 735h1v2h-1zM840 733h1v2h-1zM841 731h1v2h-1zM842 729h1v2h-1zM843 727h1v2h-1zM844 725h1v2h-1zM845 724h1v1h-1zM854 723h1v1h-1zM855 724h1v1h-1zM858 726h1v1h-1zM859 727h1v1h-1zM860 728h1v1h-1zM861 729h1v1h-1zM862 728h1v1h-1zM863 727h1v1h-1zM864 726h1v1h-1zM865 724h1v2h-1zM866 723h1v1h-1zM867 722h1v1h-1zM868 721h1v1h-1zM869 720h1v1h-1zM870 719h1v1h-1zM871 718h1v1h-1zM872 717h1v1h-1zM873 716h1v1h-1zM874 715h1v1h-1zM875 714h1v1h-1zM876 713h1v1h-1zM877 712h1v1h-1zM882 715h1v1h-1zM902 717h1v1h-1zM903 718h1v1h-1zM904 719h1v1h-1zM905 720h1v2h-1zM906 722h1v1h-1zM907 723h1v1h-1zM908 724h1v1h-1zM918 729h1v2h-1zM919 731h1v2h-1zM920 733h1v2h-1zM921 735h1v1h-1zM922 736h1v2h-1zM923 738h1v2h-1zM924 740h1v2h-1zM946 742h1v1h-1zM949 744h1v1h-1zM950 743h1v1h-1zM951 742h1v1h-1zM952 741h1v1h-1zM953 739h1v2h-1zM954 738h1v1h-1zM955 737h1v1h-1zM956 736h1v1h-1zM957 735h1v1h-1zM958 734h1v1h-1zM959 733h1v1h-1zM960 732h1v1h-1zM961 730h1v2h-1zM962 729h1v1h-1zM963 728h1v1h-1zM964 727h1v1h-1zM965 726h1v1h-1zM966 725h1v1h-1zM967 724h1v1h-1zM968 723h1v1h-1zM969 721h1v2h-1zM970 720h1v1h-1zM971 719h1v1h-1zM972 718h1v1h-1zM990 715h1v1h-1zM991 716h1v1h-1zM994 718h1v1h-1zM995 719h1v1h-1zM996 720h1v1h-1zM1026 722h1v1h-1zM1029 724h1v1h-1zM1030 725h1v2h-1zM1031 727h1v2h-1zM1032 729h1v2h-1zM1033 731h1v2h-1zM1034 733h1v2h-1zM1035 735h1v2h-1zM1036 737h1v2h-1zM1062 740h1v2h-1zM1063 742h1v1h-1zM1064 743h1v1h-1zM1065 744h1v2h-1zM1066 746h1v1h-1zM1067 747h1v1h-1zM1068 748h1v2h-1zM1094 750h1v2h-1zM1095 749h1v1h-1zM1096 747h1v2h-1zM1097 746h1v1h-1zM1098 744h1v2h-1zM1099 743h1v1h-1zM1100 741h1v2h-1z" fill="#1e90ff"/>
</g>
<g id="labels" text-rendering="geometricPrecision">
<text x="1426.31" y="37" font-size="10" fill="#000" stroke="#000" stroke-width="0.3" textLength="33.06" lengthAdjust="spacingAndGlyphs">1.15285</text>
<text x="1426.31" y="70" font-size="10" fill="#000" stroke="#000" stroke-width="0.3" textLength="33.06" lengthAdjust="spacingAndGlyphs">1.15015</text>
<text x="1426.31" y="103" font-size="10" fill="#000" stroke="#000" stroke-width="0.3" textLength="33.06" lengthAdjust="spacingAndGlyphs">1.14750</text>
<text x="1426.31" y="136" font-size="10" fill="#000" stroke="#000" stroke-width="0.3" textLength="33.06" lengthAdjust="spacingAndGlyphs">1.14480</text>
<text x="1426.31" y="169" font-size="10" fill="#000" stroke="#000" stroke-width="0.3" textLength="33.06" lengthAdjust="spacingAndGlyphs">1.14210</text>
<text x="1426.31" y="202" font-size="10" fill="#000" stroke="#000" stroke-width="0.3" textLength="33.06" lengthAdjust="spacingAndGlyphs">1.13945</text>
<text x="1426.31" y="235" font-size="10" fill="#000" stroke="#000" stroke-width="0.3" textLength="33.06" lengthAdjust="spacingAndGlyphs">1.13675</text>
<text x="1426.31" y="268" font-size="10" fill="#000" stroke="#000" stroke-width="0.3" textLength="33.06" lengthAdjust="spacingAndGlyphs">1.13405</text>
<text x="1426.31" y="301" font-size="10" fill="#000" stroke="#000" stroke-width="0.3" textLength="33.06" lengthAdjust="spacingAndGlyphs">1.13135</text>
<text x="1426.31" y="334" font-size="10" fill="#000" stroke="#000" stroke-width="0.3" textLength="33.06" lengthAdjust="spacingAndGlyphs">1.12870</text>
<text x="1426.31" y="400" font-size="10" fill="#000" stroke="#000" stroke-width="0.3" textLength="33.06" lengthAdjust="spacingAndGlyphs">1.12330</text>
<text x="1426.31" y="433" font-size="10" fill="#000" stroke="#000" stroke-width="0.3" textLength="33.06" lengthAdjust="spacingAndGlyphs">1.12065</text>
<text x="1426.31" y="466" font-size="10" fill="#000" stroke="#000" stroke-width="0.3" textLength="32.37" lengthAdjust="spacingAndGlyphs">1.11795</text>
<text x="1426.31" y="499" font-size="10" fill="#000" stroke="#000" stroke-width="0.3" textLength="32.37" lengthAdjust="spacingAndGlyphs">1.11525</text>
<text x="1426.31" y="532" font-size="10" fill="#000" stroke="#000" stroke-width="0.3" textLength="32.37" lengthAdjust="spacingAndGlyphs">1.11255</text>
<text x="1426.31" y="565" font-size="10" fill="#000" stroke="#000" stroke-width="0.3" textLength="33.06" lengthAdjust="spacingAndGlyphs">1.10990</text>
<text x="1426.31" y="368" font-size="10" fill="#fff" stroke="#fff" stroke-width="0.3" textLength="33.06" lengthAdjust="spacingAndGlyphs">1.12597</text>
<text x="1423.76" y="577" font-size="10" fill="#000" stroke="#000" stroke-width="0.3" textLength="38.14" lengthAdjust="spacingAndGlyphs">0.004465</text>
<text x="1423.76" y="627" font-size="10" fill="#000" stroke="#000" stroke-width="0.3" textLength="17.80" lengthAdjust="spacingAndGlyphs">0.00</text>
<text x="1424.06" y="666" font-size="10" fill="#000" stroke="#000" stroke-width="0.3" textLength="41.19" lengthAdjust="spacingAndGlyphs">-0.003715</text>
<text x="1423.81" y="682" font-size="10" fill="#000" stroke="#000" stroke-width="0.3" textLength="15.26" lengthAdjust="spacingAndGlyphs">100</text>
<text x="1422.74" y="715" font-size="10" fill="#000" stroke="#000" stroke-width="0.3" textLength="10.17" lengthAdjust="spacingAndGlyphs">70</text>
<text x="1423.26" y="766" font-size="10" fill="#000" stroke="#000" stroke-width="0.3" textLength="10.17" lengthAdjust="spacingAndGlyphs">30</text>
<text x="1423.76" y="798" font-size="10" fill="#000" stroke="#000" stroke-width="0.3" textLength="5.09" lengthAdjust="spacingAndGlyphs">0</text>
<text x="3.76" y="814" font-size="10" fill="#000" stroke="#000" stroke-width="0.3" textLength="50.34" lengthAdjust="spacingAndGlyphs">30 Jan 2019</text>
<text x="67.75" y="814" font-size="10" fill="#000" stroke="#000" stroke-width="0.3" textLength="47.20" lengthAdjust="spacingAndGlyphs">8 Feb 2019</text>
<text x="131.40" y="814" font-size="10" fill="#000" stroke="#000" stroke-width="0.3" textLength="52.70" lengthAdjust="spacingAndGlyphs">18 Feb 2019</text>
<text x="195.63" y="814" font-size="10" fill="#000" stroke="#000" stroke-width="0.3" textLength="52.26" lengthAdjust="spacingAndGlyphs">27 Feb 2019</text>
<text x="259.75" y="814" font-size="10" fill="#000" stroke="#000" stroke-width="0.3" textLength="47.09" lengthAdjust="spacingAndGlyphs">8 Mar 2019</text>
<text x="323.40" y="814" font-size="10" fill="#000" stroke="#000" stroke-width="0.3" textLength="52.58" lengthAdjust="spacingAndGlyphs">18 Mar 2019</text>
<text x="387.63" y="814" font-size="10" fill="#000" stroke="#000" stroke-width="0.3" textLength="52.45" lengthAdjust="spacingAndGlyphs">27 Mar 2019</text>
<text x="451.75" y="814" font-size="10" fill="#000" stroke="#000" stroke-width="0.3" textLength="45.71" lengthAdjust="spacingAndGlyphs">5 Apr 2019</text>
<text x="515.39" y="814" font-size="10" fill="#000" stroke="#000" stroke-width="0.3" textLength="51.23" lengthAdjust="spacingAndGlyphs">15 Apr 2019</text>
<text x="579.63" y="814" font-size="10" fill="#000" stroke="#000" stroke-width="0.3" textLength="51.09" lengthAdjust="spacingAndGlyphs">25 Apr 2019</text>
<text x="643.74" y="814" font-size="10" fill="#000" stroke="#000" stroke-width="0.3" textLength="49.73" lengthAdjust="spacingAndGlyphs">5 May 2019</text>
<text x="707.38" y="814" font-size="10" fill="#000" stroke="#000" stroke-width="0.3" textLength="55.15" lengthAdjust="spacingAndGlyphs">14 May 2019</text>
<text x="771.63" y="814" font-size="10" fill="#000" stroke="#000" stroke-width="0.3" textLength="54.70" lengthAdjust="spacingAndGlyphs">23 May 2019</text>
<text x="835.64" y="814" font-size="10" fill="#000" stroke="#000" stroke-width="0.3" textLength="45.10" lengthAdjust="spacingAndGlyphs">2 Jun 2019</text>
<text x="899.41" y="814" font-size="10" fill="#000" stroke="#000" stroke-width="0.3" textLength="49.89" lengthAdjust="spacingAndGlyphs">11 Jun 2019</text>
<text x="963.64" y="814" font-size="10" fill="#000" stroke="#000" stroke-width="0.3" textLength="50.66" lengthAdjust="spacingAndGlyphs">20 Jun 2019</text>
<text x="1027.76" y="814" font-size="10" fill="#000" stroke="#000" stroke-width="0.3" textLength="50.04" lengthAdjust="spacingAndGlyphs">30 Jun 2019</text>
<text x="1091.75" y="814" font-size="10" fill="#000" stroke="#000" stroke-width="0.3" textLength="42.72" lengthAdjust="spacingAndGlyphs">9 Jul 2019</text>
<text x="19.49" y="37" font-size="10" fill="#000" stroke="#000" stroke-width="0.3" textLength="67.17" lengthAdjust="spacingAndGlyphs">EURUSD-,Daily</text>
<text x="92.81" y="37" font-size="10" fill="#000" stroke="#000" stroke-width="0.3" textLength="33.06" lengthAdjust="spacingAndGlyphs">1.12488</text>
<text x="129.01" y="37" font-size="10" fill="#000" stroke="#000" stroke-width="0.3" textLength="33.06" lengthAdjust="spacingAndGlyphs">1.12606</text>
<text x="165.11" y="37" font-size="10" fill="#000" stroke="#000" stroke-width="0.3" textLength="33.06" lengthAdjust="spacingAndGlyphs">1.12488</text>
<text x="201.01" y="37" font-size="10" fill="#000" stroke="#000" stroke-width="0.3" textLength="33.06" lengthAdjust="spacingAndGlyphs">1.12597</text>
<text x="8.60" y="579" font-size="10" fill="#000" stroke="#000" stroke-width="0.3" textLength="151.58" lengthAdjust="spacingAndGlyphs">MACD(12,26,9) -0.000946 0.000078</text>
<text x="8.60" y="684" font-size="10" fill="#000" stroke="#000" stroke-width="0.3" textLength="68.89" lengthAdjust="spacingAndGlyphs">RSI(14) 48.0452</text>
</g>
</svg>
<div id="toolbar">
<div class="sep" style="left:30px"></div>
<div class="on"></div>
<div class="sep" style="left:113px"></div>
<svg width="120" height="21" font-family='"Liberation Sans", sans-serif' text-rendering="geometricPrecision">
<text x="6.65" y="13.4" font-size="10.9" fill="#4c4c4c" textLength="13.54" lengthAdjust="spacingAndGlyphs">H4</text>
<text x="35.69" y="13.4" font-size="10.9" fill="#4c4c4c" textLength="12.90" lengthAdjust="spacingAndGlyphs">D1</text>
<text x="64.00" y="13.4" font-size="10.9" fill="#4c4c4c" textLength="14.52" lengthAdjust="spacingAndGlyphs">W1</text>
<text x="89.64" y="13.4" font-size="10.9" fill="#4c4c4c" textLength="16.66" lengthAdjust="spacingAndGlyphs">MN</text>
</svg>
</div>
<div id="tbline"></div>
<div id="lstrip"></div>
<div id="oct">
<div class="mid"></div>
<div class="btn" style="left:0"><i></i></div>
<div class="vol"><div class="sb" style="left:1px"><svg width="19" height="18"><path d="M6.5 7h5.6l-2.8 3.5z" fill="#4a62c8"/></svg></div><div class="sl" style="left:20px"></div><div class="sl" style="right:20px"></div><div class="sb" style="right:1px"><svg width="19" height="18"><path d="M6.9 10.5h5.6l-2.8-3.5z" fill="#4a62c8"/></svg></div></div>
<div class="btn" style="left:167px"><i></i></div>
<div class="price" style="left:0"></div>
<div class="price" style="left:111px;width:108px"></div>
<svg class="txt" width="219" height="64" font-family='"Liberation Sans", sans-serif' text-rendering="geometricPrecision">
<defs><linearGradient id="pg" gradientUnits="userSpaceOnUse" x1="0" y1="24" x2="0" y2="64"><stop offset="0" stop-color="#e23232"/><stop offset="1" stop-color="#a80000"/></linearGradient></defs>
<text x="11.87" y="16" font-size="12.7" fill="#fff" stroke="#fff" stroke-width="0.2" textLength="26.29" lengthAdjust="spacingAndGlyphs">SELL</text>
<text x="115.70" y="15" font-size="12.3" fill="#000" stroke="#000" stroke-width="0.2" textLength="24.76" lengthAdjust="spacingAndGlyphs">1.00</text>
<text x="179.34" y="16" font-size="12.7" fill="#fff" stroke="#fff" stroke-width="0.2" textLength="24.99" lengthAdjust="spacingAndGlyphs">BUY</text>
<text x="19.56" y="55" font-size="12.8" fill="#fff" font-weight="bold" textLength="24.55" lengthAdjust="spacingAndGlyphs">1.12</text>
<text stroke="url(#pg)" stroke-width="0.5" paint-order="fill stroke" x="47.16" y="55" font-size="34" fill="#fff" textLength="36.99" lengthAdjust="spacingAndGlyphs">59</text>
<text x="86.43" y="39" font-size="12.3" fill="#fff" font-weight="bold" textLength="7.80" lengthAdjust="spacingAndGlyphs">7</text>
<text x="129.56" y="55" font-size="12.8" fill="#fff" font-weight="bold" textLength="24.55" lengthAdjust="spacingAndGlyphs">1.12</text>
<text stroke="url(#pg)" stroke-width="0.5" paint-order="fill stroke" x="157.21" y="55" font-size="34" fill="#fff" textLength="36.93" lengthAdjust="spacingAndGlyphs">61</text>
<text x="197.67" y="39" font-size="12.3" fill="#fff" font-weight="bold" textLength="7.30" lengthAdjust="spacingAndGlyphs">4</text>
</svg>
</div>
<div id="tabs"><div class="hl"></div><div class="line"></div><div class="ls"></div>
<div class="tab active"><span style="transform:scaleX(0.9300);margin-left:10.27px">EURUSD-,Daily</span></div>
<div class="tab" style="left:124.25px"><span style="transform:scaleX(0.9401)">AUDUSD-,Daily</span></div><div class="bar" style="left:222px"></div>
<div class="tab" style="left:232.82px"><span style="transform:scaleX(0.9306)">USDCHF-,Daily</span></div><div class="bar" style="left:330px"></div>
<div class="tab" style="left:339.55px"><span style="transform:scaleX(0.9504)">USDCAD-,Daily</span></div><div class="bar" style="left:438px"></div>
<div class="tab" style="left:449.29px"><span style="transform:scaleX(0.9603)">USDCNH-,Daily</span></div><div class="bar" style="left:550px"></div>
<div class="tab" style="left:560.07px"><span style="transform:scaleX(0.9300)">EURCHF-,Weekly</span></div><div class="bar" style="left:669px"></div>
<div class="tab" style="left:680.76px"><span style="transform:scaleX(0.9438)">XAUUSD-,H1</span></div><div class="bar" style="left:766px"></div>
<div class="tab" style="left:776.42px"><span style="transform:scaleX(0.9265)">GBPUSD-,H1</span></div><div class="bar" style="left:862px"></div>
<div class="tab" style="left:872.26px"><span style="transform:scaleX(0.9890)">UKOil-,H1</span></div><div class="bar" style="left:942px"></div>
<svg style="position:absolute;left:1430px;top:4px" width="32" height="16" shape-rendering="crispEdges"><path d="M8 4h1v6h-1zM7 5h1v4h-1zM6 6h1v2h-1zM25 4h1v6h-1zM26 5h1v4h-1zM27 6h1v2h-1z" fill="#8c8c8c"/></svg>
</div>
</body></html>
